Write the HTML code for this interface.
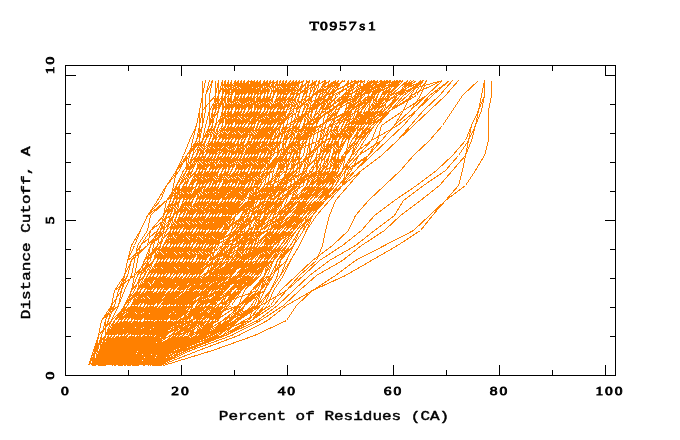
<!DOCTYPE html>
<html><head><meta charset="utf-8"><title>T0957s1</title>
<style>
html,body{margin:0;padding:0;background:#fff}
svg{display:block;will-change:transform}
text{font-family:"Liberation Mono","DejaVu Sans Mono",monospace;font-weight:normal;font-size:13.7px;fill:#000;stroke:#000;stroke-width:0.45px;paint-order:stroke}
.z{font-family:"Liberation Serif","DejaVu Serif",serif;font-size:13.3px;stroke-width:0.8px}
.ax{fill:none;stroke:#000;stroke-width:1;shape-rendering:crispEdges}
.d{fill:none;stroke:#ff8000;stroke-width:1;shape-rendering:crispEdges;stroke-linejoin:round}
</style></head><body>
<svg width="680" height="440" viewBox="0 0 680 440">
<rect width="680" height="440" fill="#fff"/>
<g class="d">
<polyline points="104.5,365.5 119.5,350.5 127.5,335.5 134.5,320.5 147.5,305.5 153.5,290.5 163.5,275.5 173.5,260.5 179.5,245.5 189.5,230.5 196.5,215.5 199.5,200.5 205.5,185.5 209.5,170.5 222.5,155.5 225.5,140.5 235.5,125.5 238.5,110.5 241.5,95.5 241.5,80.5"/>
<polyline points="108.5,365.5 123.5,350.5 137.5,335.5 150.5,320.5 157.5,305.5 173.5,290.5 183.5,275.5 189.5,260.5 199.5,245.5 205.5,230.5 218.5,215.5 228.5,200.5 238.5,185.5 241.5,170.5 251.5,155.5 260.5,140.5 267.5,125.5 277.5,110.5 280.5,95.5 283.5,80.5"/>
<polyline points="151.5,365.5 166.5,350.5 196.5,335.5 205.5,320.5 218.5,305.5 228.5,290.5 248.5,275.5 260.5,260.5 270.5,245.5 283.5,230.5 293.5,215.5 309.5,200.5 325.5,185.5 338.5,170.5 345.5,155.5 358.5,140.5 364.5,125.5 374.5,110.5 387.5,95.5 403.5,80.5"/>
<polyline points="112.5,365.5 120.5,350.5 134.5,335.5 140.5,320.5 150.5,305.5 157.5,290.5 170.5,275.5 176.5,260.5 189.5,245.5 199.5,230.5 202.5,215.5 215.5,200.5 231.5,185.5 248.5,170.5 251.5,155.5 257.5,140.5 260.5,125.5 280.5,110.5 283.5,95.5 286.5,80.5"/>
<polyline points="105.5,365.5 121.5,350.5 134.5,335.5 140.5,320.5 147.5,305.5 157.5,290.5 166.5,275.5 176.5,260.5 183.5,245.5 192.5,230.5 199.5,215.5 215.5,200.5 222.5,185.5 231.5,170.5 238.5,155.5 241.5,140.5 251.5,125.5 257.5,110.5 260.5,95.5 260.5,80.5"/>
<polyline points="114.5,365.5 118.5,350.5 140.5,335.5 147.5,320.5 157.5,305.5 166.5,290.5 179.5,275.5 186.5,260.5 192.5,245.5 196.5,230.5 202.5,215.5 212.5,200.5 218.5,185.5 222.5,170.5 238.5,155.5 241.5,140.5 248.5,125.5 251.5,110.5 254.5,95.5 257.5,80.5"/>
<polyline points="112.5,365.5 116.5,350.5 144.5,335.5 150.5,320.5 153.5,305.5 160.5,290.5 173.5,275.5 179.5,260.5 192.5,245.5 202.5,230.5 212.5,215.5 215.5,200.5 225.5,185.5 235.5,170.5 241.5,155.5 244.5,140.5 248.5,125.5 251.5,110.5 254.5,95.5 254.5,80.5"/>
<polyline points="92.5,365.5 103.5,350.5 108.5,335.5 114.5,320.5 131.5,305.5 147.5,290.5 153.5,275.5 166.5,260.5 173.5,245.5 176.5,230.5 186.5,215.5 189.5,200.5 199.5,185.5 202.5,170.5 212.5,155.5 222.5,140.5 225.5,125.5 228.5,110.5 228.5,95.5 231.5,80.5"/>
<polyline points="101.5,365.5 105.5,350.5 121.5,335.5 131.5,320.5 140.5,305.5 144.5,290.5 150.5,275.5 157.5,260.5 170.5,245.5 176.5,230.5 186.5,215.5 189.5,200.5 199.5,185.5 202.5,170.5 212.5,155.5 218.5,140.5 231.5,125.5 235.5,110.5 244.5,95.5 244.5,80.5"/>
<polyline points="110.5,365.5 124.5,350.5 137.5,335.5 150.5,320.5 160.5,305.5 170.5,290.5 183.5,275.5 192.5,260.5 196.5,245.5 205.5,230.5 209.5,215.5 225.5,200.5 231.5,185.5 238.5,170.5 241.5,155.5 248.5,140.5 254.5,125.5 260.5,110.5 267.5,95.5 270.5,80.5"/>
<polyline points="133.5,365.5 165.5,350.5 176.5,335.5 192.5,320.5 199.5,305.5 241.5,290.5 248.5,275.5 260.5,260.5 264.5,245.5 273.5,230.5 280.5,215.5 290.5,200.5 296.5,185.5 312.5,170.5 316.5,155.5 319.5,140.5 322.5,125.5 335.5,110.5 342.5,95.5 397.5,80.5"/>
<polyline points="151.5,365.5 165.5,350.5 196.5,335.5 202.5,320.5 218.5,305.5 231.5,290.5 248.5,275.5 264.5,260.5 273.5,245.5 286.5,230.5 303.5,215.5 316.5,200.5 329.5,185.5 342.5,170.5 351.5,155.5 358.5,140.5 364.5,125.5 384.5,110.5 397.5,95.5 407.5,80.5"/>
<polyline points="121.5,365.5 145.5,350.5 153.5,335.5 183.5,320.5 186.5,305.5 202.5,290.5 215.5,275.5 235.5,260.5 238.5,245.5 248.5,230.5 254.5,215.5 260.5,200.5 283.5,185.5 290.5,170.5 303.5,155.5 306.5,140.5 309.5,125.5 312.5,110.5 316.5,95.5 319.5,80.5"/>
<polyline points="154.5,365.5 169.5,350.5 196.5,335.5 209.5,320.5 222.5,305.5 235.5,290.5 251.5,275.5 264.5,260.5 273.5,245.5 283.5,230.5 296.5,215.5 306.5,200.5 322.5,185.5 325.5,170.5 332.5,155.5 345.5,140.5 355.5,125.5 361.5,110.5 371.5,95.5 384.5,80.5"/>
<polyline points="100.5,365.5 116.5,350.5 127.5,335.5 140.5,320.5 147.5,305.5 160.5,290.5 173.5,275.5 183.5,260.5 189.5,245.5 192.5,230.5 205.5,215.5 218.5,200.5 222.5,185.5 225.5,170.5 228.5,155.5 235.5,140.5 241.5,125.5 244.5,110.5 251.5,95.5 251.5,80.5"/>
<polyline points="104.5,365.5 114.5,350.5 131.5,335.5 144.5,320.5 150.5,305.5 160.5,290.5 173.5,275.5 189.5,260.5 196.5,245.5 205.5,230.5 215.5,215.5 231.5,200.5 238.5,185.5 244.5,170.5 248.5,155.5 254.5,140.5 260.5,125.5 264.5,110.5 267.5,95.5 273.5,80.5"/>
<polyline points="89.5,365.5 93.5,350.5 98.5,335.5 101.5,320.5 118.5,305.5 121.5,290.5 124.5,275.5 127.5,260.5 134.5,245.5 140.5,230.5 147.5,215.5 157.5,200.5 166.5,185.5 179.5,170.5 186.5,155.5 199.5,140.5 199.5,125.5 202.5,110.5 215.5,95.5 215.5,80.5"/>
<polyline points="105.5,365.5 117.5,350.5 121.5,335.5 127.5,320.5 137.5,305.5 150.5,290.5 163.5,275.5 170.5,260.5 183.5,245.5 186.5,230.5 196.5,215.5 202.5,200.5 215.5,185.5 222.5,170.5 228.5,155.5 238.5,140.5 254.5,125.5 254.5,110.5 257.5,95.5 260.5,80.5"/>
<polyline points="104.5,365.5 119.5,350.5 124.5,335.5 140.5,320.5 147.5,305.5 160.5,290.5 166.5,275.5 183.5,260.5 186.5,245.5 199.5,230.5 205.5,215.5 209.5,200.5 222.5,185.5 228.5,170.5 231.5,155.5 238.5,140.5 244.5,125.5 251.5,110.5 254.5,95.5 264.5,80.5"/>
<polyline points="119.5,365.5 128.5,350.5 137.5,335.5 150.5,320.5 157.5,305.5 166.5,290.5 179.5,275.5 192.5,260.5 199.5,245.5 212.5,230.5 215.5,215.5 228.5,200.5 235.5,185.5 238.5,170.5 257.5,155.5 260.5,140.5 264.5,125.5 277.5,110.5 280.5,95.5 293.5,80.5"/>
<polyline points="125.5,365.5 136.5,350.5 147.5,335.5 153.5,320.5 176.5,305.5 183.5,290.5 196.5,275.5 205.5,260.5 212.5,245.5 218.5,230.5 228.5,215.5 235.5,200.5 244.5,185.5 257.5,170.5 260.5,155.5 267.5,140.5 273.5,125.5 280.5,110.5 293.5,95.5 296.5,80.5"/>
<polyline points="153.5,365.5 168.5,350.5 202.5,335.5 231.5,320.5 241.5,305.5 251.5,290.5 264.5,275.5 270.5,260.5 280.5,245.5 290.5,230.5 299.5,215.5 316.5,200.5 329.5,185.5 338.5,170.5 345.5,155.5 351.5,140.5 361.5,125.5 368.5,110.5 397.5,95.5 410.5,80.5"/>
<polyline points="119.5,365.5 125.5,350.5 144.5,335.5 163.5,320.5 166.5,305.5 179.5,290.5 189.5,275.5 199.5,260.5 205.5,245.5 222.5,230.5 228.5,215.5 238.5,200.5 244.5,185.5 248.5,170.5 257.5,155.5 260.5,140.5 270.5,125.5 283.5,110.5 286.5,95.5 290.5,80.5"/>
<polyline points="163.5,365.5 212.5,350.5 254.5,335.5 286.5,320.5 296.5,305.5 312.5,290.5 345.5,275.5 371.5,260.5 397.5,245.5 420.5,230.5 432.5,215.5 445.5,200.5 465.5,185.5 475.5,170.5 484.5,155.5 488.5,140.5 488.5,125.5 488.5,110.5 491.5,95.5 491.5,80.5"/>
<polyline points="122.5,365.5 137.5,350.5 166.5,335.5 170.5,320.5 176.5,305.5 205.5,290.5 212.5,275.5 235.5,260.5 238.5,245.5 254.5,230.5 257.5,215.5 264.5,200.5 267.5,185.5 280.5,170.5 280.5,155.5 283.5,140.5 286.5,125.5 290.5,110.5 296.5,95.5 325.5,80.5"/>
<polyline points="110.5,365.5 114.5,350.5 127.5,335.5 137.5,320.5 147.5,305.5 153.5,290.5 170.5,275.5 173.5,260.5 179.5,245.5 186.5,230.5 189.5,215.5 209.5,200.5 222.5,185.5 225.5,170.5 228.5,155.5 235.5,140.5 248.5,125.5 257.5,110.5 260.5,95.5 260.5,80.5"/>
<polyline points="158.5,365.5 176.5,350.5 209.5,335.5 222.5,320.5 257.5,305.5 260.5,290.5 264.5,275.5 270.5,260.5 283.5,245.5 293.5,230.5 303.5,215.5 312.5,200.5 329.5,185.5 338.5,170.5 345.5,155.5 355.5,140.5 361.5,125.5 384.5,110.5 400.5,95.5 407.5,80.5"/>
<polyline points="120.5,365.5 127.5,350.5 153.5,335.5 157.5,320.5 163.5,305.5 183.5,290.5 189.5,275.5 199.5,260.5 205.5,245.5 218.5,230.5 228.5,215.5 254.5,200.5 257.5,185.5 264.5,170.5 277.5,155.5 286.5,140.5 299.5,125.5 303.5,110.5 312.5,95.5 329.5,80.5"/>
<polyline points="153.5,365.5 169.5,350.5 199.5,335.5 202.5,320.5 209.5,305.5 231.5,290.5 251.5,275.5 257.5,260.5 267.5,245.5 290.5,230.5 306.5,215.5 325.5,200.5 332.5,185.5 335.5,170.5 338.5,155.5 342.5,140.5 345.5,125.5 384.5,110.5 387.5,95.5 442.5,80.5"/>
<polyline points="115.5,365.5 126.5,350.5 137.5,335.5 140.5,320.5 150.5,305.5 160.5,290.5 170.5,275.5 179.5,260.5 183.5,245.5 192.5,230.5 205.5,215.5 212.5,200.5 218.5,185.5 228.5,170.5 228.5,155.5 231.5,140.5 235.5,125.5 244.5,110.5 248.5,95.5 251.5,80.5"/>
<polyline points="146.5,365.5 160.5,350.5 183.5,335.5 199.5,320.5 209.5,305.5 222.5,290.5 241.5,275.5 257.5,260.5 270.5,245.5 280.5,230.5 293.5,215.5 306.5,200.5 312.5,185.5 322.5,170.5 325.5,155.5 335.5,140.5 338.5,125.5 351.5,110.5 358.5,95.5 374.5,80.5"/>
<polyline points="116.5,365.5 120.5,350.5 144.5,335.5 153.5,320.5 163.5,305.5 173.5,290.5 183.5,275.5 189.5,260.5 202.5,245.5 209.5,230.5 215.5,215.5 225.5,200.5 238.5,185.5 241.5,170.5 244.5,155.5 251.5,140.5 260.5,125.5 264.5,110.5 267.5,95.5 267.5,80.5"/>
<polyline points="140.5,365.5 152.5,350.5 179.5,335.5 183.5,320.5 189.5,305.5 196.5,290.5 209.5,275.5 228.5,260.5 231.5,245.5 238.5,230.5 248.5,215.5 254.5,200.5 264.5,185.5 283.5,170.5 286.5,155.5 290.5,140.5 299.5,125.5 306.5,110.5 312.5,95.5 345.5,80.5"/>
<polyline points="153.5,365.5 171.5,350.5 209.5,335.5 248.5,320.5 254.5,305.5 260.5,290.5 270.5,275.5 286.5,260.5 293.5,245.5 303.5,230.5 306.5,215.5 322.5,200.5 342.5,185.5 348.5,170.5 368.5,155.5 381.5,140.5 394.5,125.5 410.5,110.5 426.5,95.5 442.5,80.5"/>
<polyline points="127.5,365.5 150.5,350.5 183.5,335.5 189.5,320.5 228.5,305.5 235.5,290.5 260.5,275.5 264.5,260.5 270.5,245.5 273.5,230.5 296.5,215.5 309.5,200.5 322.5,185.5 335.5,170.5 338.5,155.5 342.5,140.5 355.5,125.5 368.5,110.5 371.5,95.5 377.5,80.5"/>
<polyline points="110.5,365.5 120.5,350.5 131.5,335.5 150.5,320.5 163.5,305.5 170.5,290.5 183.5,275.5 196.5,260.5 202.5,245.5 209.5,230.5 222.5,215.5 225.5,200.5 238.5,185.5 244.5,170.5 248.5,155.5 251.5,140.5 264.5,125.5 267.5,110.5 273.5,95.5 283.5,80.5"/>
<polyline points="101.5,365.5 105.5,350.5 111.5,335.5 124.5,320.5 140.5,305.5 150.5,290.5 160.5,275.5 166.5,260.5 183.5,245.5 186.5,230.5 196.5,215.5 205.5,200.5 212.5,185.5 218.5,170.5 231.5,155.5 235.5,140.5 248.5,125.5 251.5,110.5 254.5,95.5 257.5,80.5"/>
<polyline points="99.5,365.5 102.5,350.5 105.5,335.5 114.5,320.5 124.5,305.5 131.5,290.5 137.5,275.5 144.5,260.5 150.5,245.5 157.5,230.5 166.5,215.5 173.5,200.5 179.5,185.5 192.5,170.5 196.5,155.5 205.5,140.5 209.5,125.5 215.5,110.5 215.5,95.5 218.5,80.5"/>
<polyline points="126.5,365.5 131.5,350.5 163.5,335.5 166.5,320.5 179.5,305.5 209.5,290.5 215.5,275.5 235.5,260.5 248.5,245.5 254.5,230.5 257.5,215.5 270.5,200.5 273.5,185.5 280.5,170.5 283.5,155.5 290.5,140.5 293.5,125.5 299.5,110.5 303.5,95.5 306.5,80.5"/>
<polyline points="92.5,365.5 107.5,350.5 111.5,335.5 127.5,320.5 137.5,305.5 144.5,290.5 153.5,275.5 160.5,260.5 163.5,245.5 173.5,230.5 179.5,215.5 183.5,200.5 192.5,185.5 196.5,170.5 209.5,155.5 215.5,140.5 218.5,125.5 222.5,110.5 225.5,95.5 238.5,80.5"/>
<polyline points="130.5,365.5 143.5,350.5 153.5,335.5 176.5,320.5 183.5,305.5 192.5,290.5 215.5,275.5 244.5,260.5 251.5,245.5 260.5,230.5 267.5,215.5 270.5,200.5 277.5,185.5 290.5,170.5 293.5,155.5 296.5,140.5 303.5,125.5 309.5,110.5 312.5,95.5 316.5,80.5"/>
<polyline points="155.5,365.5 171.5,350.5 209.5,335.5 235.5,320.5 254.5,305.5 260.5,290.5 264.5,275.5 273.5,260.5 283.5,245.5 293.5,230.5 303.5,215.5 316.5,200.5 329.5,185.5 342.5,170.5 351.5,155.5 358.5,140.5 364.5,125.5 377.5,110.5 394.5,95.5 413.5,80.5"/>
<polyline points="127.5,365.5 131.5,350.5 140.5,335.5 153.5,320.5 166.5,305.5 176.5,290.5 189.5,275.5 202.5,260.5 209.5,245.5 225.5,230.5 228.5,215.5 241.5,200.5 251.5,185.5 254.5,170.5 257.5,155.5 264.5,140.5 267.5,125.5 280.5,110.5 283.5,95.5 283.5,80.5"/>
<polyline points="99.5,365.5 102.5,350.5 111.5,335.5 121.5,320.5 131.5,305.5 140.5,290.5 150.5,275.5 160.5,260.5 166.5,245.5 173.5,230.5 176.5,215.5 179.5,200.5 189.5,185.5 209.5,170.5 212.5,155.5 212.5,140.5 218.5,125.5 225.5,110.5 238.5,95.5 241.5,80.5"/>
<polyline points="111.5,365.5 120.5,350.5 134.5,335.5 140.5,320.5 153.5,305.5 163.5,290.5 170.5,275.5 179.5,260.5 183.5,245.5 192.5,230.5 202.5,215.5 212.5,200.5 225.5,185.5 228.5,170.5 235.5,155.5 241.5,140.5 251.5,125.5 257.5,110.5 260.5,95.5 264.5,80.5"/>
<polyline points="133.5,365.5 138.5,350.5 150.5,335.5 163.5,320.5 186.5,305.5 196.5,290.5 209.5,275.5 218.5,260.5 222.5,245.5 248.5,230.5 251.5,215.5 270.5,200.5 290.5,185.5 319.5,170.5 329.5,155.5 332.5,140.5 348.5,125.5 351.5,110.5 358.5,95.5 361.5,80.5"/>
<polyline points="156.5,365.5 165.5,350.5 176.5,335.5 179.5,320.5 209.5,305.5 215.5,290.5 225.5,275.5 235.5,260.5 244.5,245.5 267.5,230.5 273.5,215.5 277.5,200.5 283.5,185.5 286.5,170.5 293.5,155.5 299.5,140.5 332.5,125.5 338.5,110.5 345.5,95.5 364.5,80.5"/>
<polyline points="92.5,365.5 99.5,350.5 111.5,335.5 118.5,320.5 124.5,305.5 131.5,290.5 137.5,275.5 144.5,260.5 157.5,245.5 160.5,230.5 166.5,215.5 173.5,200.5 179.5,185.5 186.5,170.5 192.5,155.5 202.5,140.5 209.5,125.5 212.5,110.5 215.5,95.5 215.5,80.5"/>
<polyline points="95.5,365.5 113.5,350.5 121.5,335.5 131.5,320.5 137.5,305.5 140.5,290.5 150.5,275.5 163.5,260.5 170.5,245.5 179.5,230.5 186.5,215.5 196.5,200.5 209.5,185.5 212.5,170.5 225.5,155.5 231.5,140.5 235.5,125.5 238.5,110.5 241.5,95.5 244.5,80.5"/>
<polyline points="137.5,365.5 177.5,350.5 186.5,335.5 192.5,320.5 205.5,305.5 212.5,290.5 231.5,275.5 244.5,260.5 264.5,245.5 267.5,230.5 273.5,215.5 283.5,200.5 290.5,185.5 312.5,170.5 316.5,155.5 319.5,140.5 322.5,125.5 325.5,110.5 345.5,95.5 348.5,80.5"/>
<polyline points="152.5,365.5 167.5,350.5 202.5,335.5 215.5,320.5 238.5,305.5 254.5,290.5 264.5,275.5 273.5,260.5 280.5,245.5 293.5,230.5 306.5,215.5 316.5,200.5 332.5,185.5 342.5,170.5 351.5,155.5 361.5,140.5 374.5,125.5 387.5,110.5 397.5,95.5 416.5,80.5"/>
<polyline points="106.5,365.5 119.5,350.5 127.5,335.5 137.5,320.5 153.5,305.5 157.5,290.5 163.5,275.5 173.5,260.5 183.5,245.5 192.5,230.5 196.5,215.5 209.5,200.5 218.5,185.5 222.5,170.5 235.5,155.5 244.5,140.5 251.5,125.5 254.5,110.5 260.5,95.5 267.5,80.5"/>
<polyline points="112.5,365.5 116.5,350.5 127.5,335.5 147.5,320.5 150.5,305.5 163.5,290.5 173.5,275.5 183.5,260.5 186.5,245.5 202.5,230.5 215.5,215.5 218.5,200.5 225.5,185.5 228.5,170.5 238.5,155.5 244.5,140.5 251.5,125.5 257.5,110.5 260.5,95.5 277.5,80.5"/>
<polyline points="116.5,365.5 120.5,350.5 137.5,335.5 140.5,320.5 150.5,305.5 163.5,290.5 176.5,275.5 189.5,260.5 196.5,245.5 202.5,230.5 215.5,215.5 222.5,200.5 244.5,185.5 248.5,170.5 254.5,155.5 264.5,140.5 267.5,125.5 270.5,110.5 280.5,95.5 293.5,80.5"/>
<polyline points="131.5,365.5 135.5,350.5 153.5,335.5 166.5,320.5 170.5,305.5 192.5,290.5 199.5,275.5 202.5,260.5 209.5,245.5 222.5,230.5 248.5,215.5 254.5,200.5 273.5,185.5 280.5,170.5 280.5,155.5 283.5,140.5 286.5,125.5 290.5,110.5 296.5,95.5 316.5,80.5"/>
<polyline points="96.5,365.5 100.5,350.5 118.5,335.5 121.5,320.5 131.5,305.5 140.5,290.5 153.5,275.5 160.5,260.5 163.5,245.5 170.5,230.5 176.5,215.5 186.5,200.5 192.5,185.5 199.5,170.5 209.5,155.5 212.5,140.5 222.5,125.5 225.5,110.5 228.5,95.5 228.5,80.5"/>
<polyline points="99.5,365.5 103.5,350.5 114.5,335.5 118.5,320.5 124.5,305.5 137.5,290.5 144.5,275.5 147.5,260.5 150.5,245.5 166.5,230.5 183.5,215.5 186.5,200.5 189.5,185.5 202.5,170.5 209.5,155.5 222.5,140.5 228.5,125.5 238.5,110.5 241.5,95.5 241.5,80.5"/>
<polyline points="100.5,365.5 109.5,350.5 114.5,335.5 118.5,320.5 131.5,305.5 140.5,290.5 153.5,275.5 160.5,260.5 163.5,245.5 176.5,230.5 179.5,215.5 189.5,200.5 189.5,185.5 199.5,170.5 205.5,155.5 212.5,140.5 218.5,125.5 222.5,110.5 231.5,95.5 231.5,80.5"/>
<polyline points="100.5,365.5 110.5,350.5 114.5,335.5 121.5,320.5 137.5,305.5 140.5,290.5 150.5,275.5 157.5,260.5 170.5,245.5 173.5,230.5 179.5,215.5 189.5,200.5 196.5,185.5 199.5,170.5 202.5,155.5 205.5,140.5 215.5,125.5 218.5,110.5 218.5,95.5 222.5,80.5"/>
<polyline points="104.5,365.5 110.5,350.5 127.5,335.5 134.5,320.5 144.5,305.5 157.5,290.5 160.5,275.5 170.5,260.5 173.5,245.5 183.5,230.5 192.5,215.5 199.5,200.5 212.5,185.5 218.5,170.5 231.5,155.5 238.5,140.5 241.5,125.5 257.5,110.5 264.5,95.5 264.5,80.5"/>
<polyline points="100.5,365.5 105.5,350.5 118.5,335.5 131.5,320.5 140.5,305.5 150.5,290.5 157.5,275.5 166.5,260.5 179.5,245.5 186.5,230.5 192.5,215.5 199.5,200.5 202.5,185.5 218.5,170.5 222.5,155.5 225.5,140.5 228.5,125.5 231.5,110.5 241.5,95.5 254.5,80.5"/>
<polyline points="105.5,365.5 110.5,350.5 114.5,335.5 137.5,320.5 144.5,305.5 147.5,290.5 160.5,275.5 166.5,260.5 176.5,245.5 179.5,230.5 192.5,215.5 196.5,200.5 199.5,185.5 202.5,170.5 212.5,155.5 222.5,140.5 231.5,125.5 235.5,110.5 238.5,95.5 254.5,80.5"/>
<polyline points="155.5,365.5 172.5,350.5 205.5,335.5 235.5,320.5 257.5,305.5 270.5,290.5 280.5,275.5 290.5,260.5 299.5,245.5 306.5,230.5 312.5,215.5 325.5,200.5 342.5,185.5 361.5,170.5 381.5,155.5 397.5,140.5 410.5,125.5 423.5,110.5 439.5,95.5 452.5,80.5"/>
<polyline points="114.5,365.5 119.5,350.5 137.5,335.5 140.5,320.5 150.5,305.5 163.5,290.5 173.5,275.5 179.5,260.5 186.5,245.5 192.5,230.5 196.5,215.5 205.5,200.5 209.5,185.5 212.5,170.5 215.5,155.5 218.5,140.5 235.5,125.5 238.5,110.5 241.5,95.5 244.5,80.5"/>
<polyline points="114.5,365.5 144.5,350.5 150.5,335.5 157.5,320.5 170.5,305.5 176.5,290.5 189.5,275.5 199.5,260.5 205.5,245.5 212.5,230.5 222.5,215.5 228.5,200.5 241.5,185.5 254.5,170.5 257.5,155.5 260.5,140.5 267.5,125.5 280.5,110.5 283.5,95.5 290.5,80.5"/>
<polyline points="110.5,365.5 114.5,350.5 134.5,335.5 140.5,320.5 147.5,305.5 160.5,290.5 173.5,275.5 186.5,260.5 189.5,245.5 196.5,230.5 209.5,215.5 212.5,200.5 215.5,185.5 218.5,170.5 228.5,155.5 238.5,140.5 248.5,125.5 257.5,110.5 257.5,95.5 273.5,80.5"/>
<polyline points="135.5,365.5 148.5,350.5 166.5,335.5 179.5,320.5 199.5,305.5 225.5,290.5 231.5,275.5 244.5,260.5 248.5,245.5 251.5,230.5 257.5,215.5 260.5,200.5 267.5,185.5 277.5,170.5 283.5,155.5 290.5,140.5 293.5,125.5 296.5,110.5 303.5,95.5 316.5,80.5"/>
<polyline points="120.5,365.5 146.5,350.5 160.5,335.5 163.5,320.5 170.5,305.5 179.5,290.5 202.5,275.5 222.5,260.5 225.5,245.5 244.5,230.5 251.5,215.5 254.5,200.5 267.5,185.5 277.5,170.5 293.5,155.5 303.5,140.5 306.5,125.5 325.5,110.5 329.5,95.5 342.5,80.5"/>
<polyline points="92.5,365.5 102.5,350.5 105.5,335.5 114.5,320.5 131.5,305.5 137.5,290.5 144.5,275.5 147.5,260.5 157.5,245.5 170.5,230.5 176.5,215.5 186.5,200.5 192.5,185.5 202.5,170.5 209.5,155.5 212.5,140.5 218.5,125.5 225.5,110.5 225.5,95.5 228.5,80.5"/>
<polyline points="93.5,365.5 109.5,350.5 121.5,335.5 124.5,320.5 131.5,305.5 137.5,290.5 150.5,275.5 157.5,260.5 166.5,245.5 173.5,230.5 179.5,215.5 186.5,200.5 202.5,185.5 209.5,170.5 212.5,155.5 215.5,140.5 218.5,125.5 222.5,110.5 222.5,95.5 225.5,80.5"/>
<polyline points="159.5,365.5 185.5,350.5 225.5,335.5 251.5,320.5 267.5,305.5 273.5,290.5 283.5,275.5 290.5,260.5 299.5,245.5 306.5,230.5 316.5,215.5 329.5,200.5 342.5,185.5 355.5,170.5 371.5,155.5 387.5,140.5 403.5,125.5 416.5,110.5 432.5,95.5 449.5,80.5"/>
<polyline points="94.5,365.5 97.5,350.5 101.5,335.5 108.5,320.5 114.5,305.5 118.5,290.5 127.5,275.5 131.5,260.5 147.5,245.5 150.5,230.5 163.5,215.5 173.5,200.5 183.5,185.5 189.5,170.5 192.5,155.5 196.5,140.5 199.5,125.5 199.5,110.5 202.5,95.5 202.5,80.5"/>
<polyline points="112.5,365.5 115.5,350.5 121.5,335.5 131.5,320.5 144.5,305.5 150.5,290.5 166.5,275.5 176.5,260.5 183.5,245.5 189.5,230.5 196.5,215.5 205.5,200.5 209.5,185.5 215.5,170.5 218.5,155.5 231.5,140.5 241.5,125.5 248.5,110.5 251.5,95.5 257.5,80.5"/>
<polyline points="112.5,365.5 119.5,350.5 127.5,335.5 134.5,320.5 144.5,305.5 157.5,290.5 163.5,275.5 170.5,260.5 183.5,245.5 192.5,230.5 205.5,215.5 209.5,200.5 222.5,185.5 225.5,170.5 231.5,155.5 238.5,140.5 251.5,125.5 264.5,110.5 273.5,95.5 283.5,80.5"/>
<polyline points="152.5,365.5 161.5,350.5 183.5,335.5 186.5,320.5 192.5,305.5 199.5,290.5 218.5,275.5 231.5,260.5 244.5,245.5 254.5,230.5 277.5,215.5 299.5,200.5 312.5,185.5 316.5,170.5 325.5,155.5 332.5,140.5 351.5,125.5 355.5,110.5 361.5,95.5 390.5,80.5"/>
<polyline points="96.5,365.5 99.5,350.5 111.5,335.5 127.5,320.5 131.5,305.5 137.5,290.5 140.5,275.5 144.5,260.5 157.5,245.5 160.5,230.5 166.5,215.5 179.5,200.5 196.5,185.5 199.5,170.5 205.5,155.5 209.5,140.5 212.5,125.5 212.5,110.5 228.5,95.5 228.5,80.5"/>
<polyline points="92.5,365.5 107.5,350.5 114.5,335.5 127.5,320.5 137.5,305.5 144.5,290.5 157.5,275.5 166.5,260.5 170.5,245.5 173.5,230.5 176.5,215.5 183.5,200.5 189.5,185.5 196.5,170.5 202.5,155.5 205.5,140.5 215.5,125.5 218.5,110.5 222.5,95.5 225.5,80.5"/>
<polyline points="124.5,365.5 132.5,350.5 163.5,335.5 170.5,320.5 176.5,305.5 199.5,290.5 209.5,275.5 241.5,260.5 254.5,245.5 257.5,230.5 264.5,215.5 267.5,200.5 273.5,185.5 277.5,170.5 280.5,155.5 283.5,140.5 286.5,125.5 312.5,110.5 316.5,95.5 319.5,80.5"/>
<polyline points="121.5,365.5 126.5,350.5 160.5,335.5 163.5,320.5 176.5,305.5 183.5,290.5 189.5,275.5 199.5,260.5 205.5,245.5 228.5,230.5 231.5,215.5 241.5,200.5 248.5,185.5 257.5,170.5 267.5,155.5 273.5,140.5 277.5,125.5 283.5,110.5 290.5,95.5 296.5,80.5"/>
<polyline points="110.5,365.5 120.5,350.5 137.5,335.5 144.5,320.5 150.5,305.5 163.5,290.5 173.5,275.5 183.5,260.5 192.5,245.5 199.5,230.5 202.5,215.5 212.5,200.5 225.5,185.5 231.5,170.5 235.5,155.5 241.5,140.5 254.5,125.5 257.5,110.5 264.5,95.5 267.5,80.5"/>
<polyline points="113.5,365.5 117.5,350.5 131.5,335.5 140.5,320.5 147.5,305.5 150.5,290.5 166.5,275.5 170.5,260.5 179.5,245.5 189.5,230.5 199.5,215.5 205.5,200.5 218.5,185.5 225.5,170.5 231.5,155.5 235.5,140.5 238.5,125.5 244.5,110.5 251.5,95.5 257.5,80.5"/>
<polyline points="149.5,365.5 163.5,350.5 189.5,335.5 202.5,320.5 222.5,305.5 228.5,290.5 248.5,275.5 260.5,260.5 273.5,245.5 290.5,230.5 303.5,215.5 312.5,200.5 325.5,185.5 335.5,170.5 338.5,155.5 345.5,140.5 358.5,125.5 364.5,110.5 374.5,95.5 387.5,80.5"/>
<polyline points="152.5,365.5 160.5,350.5 173.5,335.5 192.5,320.5 199.5,305.5 218.5,290.5 228.5,275.5 241.5,260.5 244.5,245.5 254.5,230.5 264.5,215.5 283.5,200.5 296.5,185.5 299.5,170.5 306.5,155.5 309.5,140.5 312.5,125.5 329.5,110.5 355.5,95.5 361.5,80.5"/>
<polyline points="139.5,365.5 151.5,350.5 163.5,335.5 176.5,320.5 179.5,305.5 199.5,290.5 209.5,275.5 218.5,260.5 244.5,245.5 254.5,230.5 267.5,215.5 283.5,200.5 296.5,185.5 312.5,170.5 316.5,155.5 338.5,140.5 342.5,125.5 351.5,110.5 374.5,95.5 377.5,80.5"/>
<polyline points="92.5,365.5 106.5,350.5 111.5,335.5 114.5,320.5 124.5,305.5 131.5,290.5 137.5,275.5 144.5,260.5 150.5,245.5 160.5,230.5 173.5,215.5 189.5,200.5 192.5,185.5 196.5,170.5 202.5,155.5 205.5,140.5 215.5,125.5 225.5,110.5 228.5,95.5 231.5,80.5"/>
<polyline points="98.5,365.5 106.5,350.5 124.5,335.5 131.5,320.5 140.5,305.5 153.5,290.5 157.5,275.5 166.5,260.5 173.5,245.5 179.5,230.5 186.5,215.5 199.5,200.5 205.5,185.5 209.5,170.5 218.5,155.5 222.5,140.5 231.5,125.5 235.5,110.5 241.5,95.5 241.5,80.5"/>
<polyline points="127.5,365.5 132.5,350.5 144.5,335.5 153.5,320.5 160.5,305.5 176.5,290.5 189.5,275.5 199.5,260.5 209.5,245.5 212.5,230.5 225.5,215.5 235.5,200.5 244.5,185.5 248.5,170.5 257.5,155.5 267.5,140.5 277.5,125.5 280.5,110.5 280.5,95.5 283.5,80.5"/>
<polyline points="99.5,365.5 122.5,350.5 131.5,335.5 140.5,320.5 157.5,305.5 160.5,290.5 173.5,275.5 183.5,260.5 189.5,245.5 199.5,230.5 205.5,215.5 212.5,200.5 228.5,185.5 238.5,170.5 244.5,155.5 251.5,140.5 260.5,125.5 264.5,110.5 270.5,95.5 273.5,80.5"/>
<polyline points="151.5,365.5 165.5,350.5 189.5,335.5 196.5,320.5 209.5,305.5 222.5,290.5 238.5,275.5 251.5,260.5 260.5,245.5 270.5,230.5 283.5,215.5 296.5,200.5 309.5,185.5 319.5,170.5 322.5,155.5 332.5,140.5 342.5,125.5 348.5,110.5 358.5,95.5 368.5,80.5"/>
<polyline points="124.5,365.5 128.5,350.5 137.5,335.5 144.5,320.5 160.5,305.5 173.5,290.5 183.5,275.5 192.5,260.5 202.5,245.5 212.5,230.5 225.5,215.5 235.5,200.5 238.5,185.5 241.5,170.5 248.5,155.5 254.5,140.5 267.5,125.5 273.5,110.5 277.5,95.5 283.5,80.5"/>
<polyline points="134.5,365.5 139.5,350.5 147.5,335.5 153.5,320.5 166.5,305.5 176.5,290.5 192.5,275.5 202.5,260.5 209.5,245.5 238.5,230.5 244.5,215.5 248.5,200.5 251.5,185.5 257.5,170.5 260.5,155.5 267.5,140.5 273.5,125.5 286.5,110.5 293.5,95.5 296.5,80.5"/>
<polyline points="92.5,365.5 99.5,350.5 111.5,335.5 114.5,320.5 124.5,305.5 134.5,290.5 140.5,275.5 144.5,260.5 160.5,245.5 163.5,230.5 166.5,215.5 173.5,200.5 179.5,185.5 192.5,170.5 199.5,155.5 202.5,140.5 209.5,125.5 212.5,110.5 215.5,95.5 215.5,80.5"/>
<polyline points="152.5,365.5 165.5,350.5 196.5,335.5 209.5,320.5 222.5,305.5 241.5,290.5 254.5,275.5 270.5,260.5 283.5,245.5 293.5,230.5 303.5,215.5 316.5,200.5 332.5,185.5 342.5,170.5 351.5,155.5 358.5,140.5 368.5,125.5 387.5,110.5 400.5,95.5 413.5,80.5"/>
<polyline points="151.5,365.5 160.5,350.5 173.5,335.5 176.5,320.5 192.5,305.5 205.5,290.5 212.5,275.5 241.5,260.5 264.5,245.5 267.5,230.5 273.5,215.5 280.5,200.5 286.5,185.5 290.5,170.5 293.5,155.5 303.5,140.5 316.5,125.5 322.5,110.5 329.5,95.5 338.5,80.5"/>
<polyline points="136.5,365.5 162.5,350.5 170.5,335.5 209.5,320.5 215.5,305.5 222.5,290.5 241.5,275.5 248.5,260.5 251.5,245.5 257.5,230.5 264.5,215.5 267.5,200.5 273.5,185.5 277.5,170.5 280.5,155.5 293.5,140.5 303.5,125.5 309.5,110.5 322.5,95.5 325.5,80.5"/>
<polyline points="105.5,365.5 109.5,350.5 140.5,335.5 144.5,320.5 157.5,305.5 163.5,290.5 173.5,275.5 186.5,260.5 189.5,245.5 192.5,230.5 199.5,215.5 209.5,200.5 215.5,185.5 225.5,170.5 231.5,155.5 251.5,140.5 257.5,125.5 260.5,110.5 264.5,95.5 267.5,80.5"/>
<polyline points="129.5,365.5 142.5,350.5 166.5,335.5 183.5,320.5 189.5,305.5 192.5,290.5 199.5,275.5 209.5,260.5 218.5,245.5 222.5,230.5 231.5,215.5 238.5,200.5 254.5,185.5 260.5,170.5 260.5,155.5 277.5,140.5 280.5,125.5 293.5,110.5 296.5,95.5 303.5,80.5"/>
<polyline points="119.5,365.5 131.5,350.5 163.5,335.5 166.5,320.5 176.5,305.5 196.5,290.5 209.5,275.5 228.5,260.5 241.5,245.5 248.5,230.5 267.5,215.5 273.5,200.5 277.5,185.5 280.5,170.5 299.5,155.5 303.5,140.5 312.5,125.5 322.5,110.5 338.5,95.5 348.5,80.5"/>
<polyline points="158.5,365.5 190.5,350.5 231.5,335.5 260.5,320.5 283.5,305.5 299.5,290.5 316.5,275.5 342.5,260.5 361.5,245.5 384.5,230.5 400.5,215.5 420.5,200.5 439.5,185.5 452.5,170.5 465.5,155.5 468.5,140.5 475.5,125.5 478.5,110.5 484.5,95.5 484.5,80.5"/>
<polyline points="136.5,365.5 142.5,350.5 153.5,335.5 173.5,320.5 192.5,305.5 199.5,290.5 222.5,275.5 228.5,260.5 231.5,245.5 267.5,230.5 273.5,215.5 280.5,200.5 286.5,185.5 290.5,170.5 293.5,155.5 303.5,140.5 309.5,125.5 312.5,110.5 319.5,95.5 335.5,80.5"/>
<polyline points="115.5,365.5 132.5,350.5 147.5,335.5 153.5,320.5 170.5,305.5 176.5,290.5 192.5,275.5 202.5,260.5 205.5,245.5 215.5,230.5 228.5,215.5 235.5,200.5 244.5,185.5 251.5,170.5 257.5,155.5 267.5,140.5 273.5,125.5 277.5,110.5 280.5,95.5 296.5,80.5"/>
<polyline points="107.5,365.5 114.5,350.5 127.5,335.5 137.5,320.5 147.5,305.5 160.5,290.5 166.5,275.5 179.5,260.5 192.5,245.5 196.5,230.5 199.5,215.5 205.5,200.5 218.5,185.5 225.5,170.5 228.5,155.5 238.5,140.5 248.5,125.5 257.5,110.5 267.5,95.5 273.5,80.5"/>
<polyline points="105.5,365.5 118.5,350.5 124.5,335.5 140.5,320.5 147.5,305.5 153.5,290.5 163.5,275.5 173.5,260.5 176.5,245.5 189.5,230.5 196.5,215.5 202.5,200.5 205.5,185.5 218.5,170.5 225.5,155.5 228.5,140.5 238.5,125.5 251.5,110.5 254.5,95.5 260.5,80.5"/>
<polyline points="109.5,365.5 116.5,350.5 124.5,335.5 137.5,320.5 144.5,305.5 153.5,290.5 170.5,275.5 179.5,260.5 183.5,245.5 196.5,230.5 202.5,215.5 212.5,200.5 218.5,185.5 222.5,170.5 231.5,155.5 244.5,140.5 248.5,125.5 257.5,110.5 260.5,95.5 264.5,80.5"/>
<polyline points="131.5,365.5 143.5,350.5 153.5,335.5 176.5,320.5 183.5,305.5 199.5,290.5 218.5,275.5 231.5,260.5 235.5,245.5 248.5,230.5 251.5,215.5 257.5,200.5 264.5,185.5 267.5,170.5 283.5,155.5 319.5,140.5 322.5,125.5 325.5,110.5 342.5,95.5 358.5,80.5"/>
<polyline points="101.5,365.5 113.5,350.5 118.5,335.5 131.5,320.5 140.5,305.5 144.5,290.5 153.5,275.5 166.5,260.5 173.5,245.5 189.5,230.5 199.5,215.5 202.5,200.5 212.5,185.5 228.5,170.5 231.5,155.5 235.5,140.5 241.5,125.5 251.5,110.5 251.5,95.5 260.5,80.5"/>
<polyline points="131.5,365.5 135.5,350.5 157.5,335.5 160.5,320.5 179.5,305.5 183.5,290.5 196.5,275.5 199.5,260.5 202.5,245.5 215.5,230.5 228.5,215.5 238.5,200.5 244.5,185.5 257.5,170.5 260.5,155.5 264.5,140.5 273.5,125.5 280.5,110.5 283.5,95.5 303.5,80.5"/>
<polyline points="110.5,365.5 121.5,350.5 140.5,335.5 160.5,320.5 166.5,305.5 173.5,290.5 186.5,275.5 196.5,260.5 205.5,245.5 212.5,230.5 225.5,215.5 228.5,200.5 235.5,185.5 244.5,170.5 254.5,155.5 260.5,140.5 267.5,125.5 273.5,110.5 283.5,95.5 293.5,80.5"/>
<polyline points="153.5,365.5 170.5,350.5 202.5,335.5 238.5,320.5 244.5,305.5 251.5,290.5 264.5,275.5 267.5,260.5 277.5,245.5 286.5,230.5 299.5,215.5 312.5,200.5 325.5,185.5 335.5,170.5 345.5,155.5 348.5,140.5 358.5,125.5 371.5,110.5 384.5,95.5 397.5,80.5"/>
<polyline points="88.5,365.5 96.5,350.5 101.5,335.5 105.5,320.5 111.5,305.5 114.5,290.5 124.5,275.5 127.5,260.5 131.5,245.5 140.5,230.5 147.5,215.5 157.5,200.5 166.5,185.5 176.5,170.5 186.5,155.5 196.5,140.5 199.5,125.5 199.5,110.5 202.5,95.5 202.5,80.5"/>
<polyline points="115.5,365.5 119.5,350.5 124.5,335.5 140.5,320.5 150.5,305.5 160.5,290.5 173.5,275.5 183.5,260.5 186.5,245.5 199.5,230.5 202.5,215.5 212.5,200.5 222.5,185.5 231.5,170.5 238.5,155.5 248.5,140.5 254.5,125.5 257.5,110.5 260.5,95.5 264.5,80.5"/>
<polyline points="113.5,365.5 118.5,350.5 134.5,335.5 140.5,320.5 153.5,305.5 163.5,290.5 173.5,275.5 183.5,260.5 192.5,245.5 202.5,230.5 212.5,215.5 218.5,200.5 225.5,185.5 231.5,170.5 238.5,155.5 248.5,140.5 251.5,125.5 260.5,110.5 267.5,95.5 270.5,80.5"/>
<polyline points="132.5,365.5 148.5,350.5 157.5,335.5 186.5,320.5 192.5,305.5 199.5,290.5 209.5,275.5 241.5,260.5 248.5,245.5 257.5,230.5 267.5,215.5 277.5,200.5 296.5,185.5 322.5,170.5 325.5,155.5 329.5,140.5 335.5,125.5 348.5,110.5 364.5,95.5 371.5,80.5"/>
<polyline points="106.5,365.5 114.5,350.5 121.5,335.5 134.5,320.5 137.5,305.5 150.5,290.5 157.5,275.5 163.5,260.5 166.5,245.5 170.5,230.5 176.5,215.5 186.5,200.5 186.5,185.5 189.5,170.5 202.5,155.5 212.5,140.5 215.5,125.5 218.5,110.5 218.5,95.5 225.5,80.5"/>
<polyline points="114.5,365.5 130.5,350.5 140.5,335.5 147.5,320.5 166.5,305.5 173.5,290.5 186.5,275.5 199.5,260.5 205.5,245.5 209.5,230.5 222.5,215.5 231.5,200.5 241.5,185.5 251.5,170.5 264.5,155.5 270.5,140.5 273.5,125.5 286.5,110.5 293.5,95.5 296.5,80.5"/>
<polyline points="112.5,365.5 121.5,350.5 127.5,335.5 147.5,320.5 153.5,305.5 166.5,290.5 176.5,275.5 186.5,260.5 192.5,245.5 196.5,230.5 212.5,215.5 222.5,200.5 238.5,185.5 241.5,170.5 248.5,155.5 260.5,140.5 264.5,125.5 267.5,110.5 273.5,95.5 280.5,80.5"/>
<polyline points="95.5,365.5 104.5,350.5 111.5,335.5 118.5,320.5 137.5,305.5 140.5,290.5 147.5,275.5 160.5,260.5 170.5,245.5 179.5,230.5 186.5,215.5 196.5,200.5 199.5,185.5 205.5,170.5 215.5,155.5 222.5,140.5 225.5,125.5 231.5,110.5 235.5,95.5 244.5,80.5"/>
<polyline points="116.5,365.5 128.5,350.5 147.5,335.5 150.5,320.5 157.5,305.5 166.5,290.5 183.5,275.5 186.5,260.5 199.5,245.5 209.5,230.5 218.5,215.5 231.5,200.5 241.5,185.5 251.5,170.5 254.5,155.5 260.5,140.5 267.5,125.5 270.5,110.5 286.5,95.5 290.5,80.5"/>
<polyline points="103.5,365.5 119.5,350.5 124.5,335.5 127.5,320.5 144.5,305.5 150.5,290.5 166.5,275.5 176.5,260.5 179.5,245.5 186.5,230.5 192.5,215.5 202.5,200.5 212.5,185.5 218.5,170.5 231.5,155.5 231.5,140.5 238.5,125.5 241.5,110.5 244.5,95.5 251.5,80.5"/>
<polyline points="110.5,365.5 118.5,350.5 124.5,335.5 137.5,320.5 144.5,305.5 157.5,290.5 166.5,275.5 179.5,260.5 186.5,245.5 196.5,230.5 205.5,215.5 215.5,200.5 222.5,185.5 235.5,170.5 238.5,155.5 251.5,140.5 254.5,125.5 257.5,110.5 260.5,95.5 267.5,80.5"/>
<polyline points="109.5,365.5 115.5,350.5 121.5,335.5 131.5,320.5 144.5,305.5 153.5,290.5 163.5,275.5 170.5,260.5 179.5,245.5 183.5,230.5 192.5,215.5 202.5,200.5 215.5,185.5 218.5,170.5 225.5,155.5 228.5,140.5 238.5,125.5 241.5,110.5 241.5,95.5 248.5,80.5"/>
<polyline points="129.5,365.5 134.5,350.5 153.5,335.5 170.5,320.5 183.5,305.5 189.5,290.5 212.5,275.5 218.5,260.5 225.5,245.5 231.5,230.5 241.5,215.5 251.5,200.5 257.5,185.5 267.5,170.5 270.5,155.5 280.5,140.5 286.5,125.5 290.5,110.5 296.5,95.5 316.5,80.5"/>
<polyline points="153.5,365.5 171.5,350.5 212.5,335.5 235.5,320.5 244.5,305.5 251.5,290.5 270.5,275.5 277.5,260.5 293.5,245.5 303.5,230.5 312.5,215.5 325.5,200.5 342.5,185.5 355.5,170.5 368.5,155.5 377.5,140.5 381.5,125.5 403.5,110.5 410.5,95.5 420.5,80.5"/>
<polyline points="108.5,365.5 122.5,350.5 137.5,335.5 150.5,320.5 163.5,305.5 170.5,290.5 176.5,275.5 186.5,260.5 199.5,245.5 212.5,230.5 225.5,215.5 235.5,200.5 241.5,185.5 244.5,170.5 248.5,155.5 251.5,140.5 254.5,125.5 257.5,110.5 267.5,95.5 270.5,80.5"/>
<polyline points="121.5,365.5 130.5,350.5 140.5,335.5 153.5,320.5 173.5,305.5 179.5,290.5 189.5,275.5 199.5,260.5 202.5,245.5 209.5,230.5 222.5,215.5 238.5,200.5 244.5,185.5 251.5,170.5 257.5,155.5 260.5,140.5 273.5,125.5 277.5,110.5 286.5,95.5 290.5,80.5"/>
<polyline points="116.5,365.5 129.5,350.5 140.5,335.5 150.5,320.5 163.5,305.5 176.5,290.5 196.5,275.5 205.5,260.5 215.5,245.5 218.5,230.5 231.5,215.5 244.5,200.5 248.5,185.5 254.5,170.5 260.5,155.5 273.5,140.5 277.5,125.5 283.5,110.5 293.5,95.5 299.5,80.5"/>
<polyline points="123.5,365.5 127.5,350.5 144.5,335.5 150.5,320.5 166.5,305.5 173.5,290.5 186.5,275.5 202.5,260.5 205.5,245.5 215.5,230.5 218.5,215.5 235.5,200.5 241.5,185.5 248.5,170.5 254.5,155.5 257.5,140.5 270.5,125.5 277.5,110.5 280.5,95.5 286.5,80.5"/>
<polyline points="105.5,365.5 113.5,350.5 127.5,335.5 137.5,320.5 144.5,305.5 160.5,290.5 173.5,275.5 186.5,260.5 192.5,245.5 205.5,230.5 212.5,215.5 222.5,200.5 225.5,185.5 235.5,170.5 241.5,155.5 248.5,140.5 251.5,125.5 254.5,110.5 257.5,95.5 257.5,80.5"/>
<polyline points="92.5,365.5 99.5,350.5 105.5,335.5 118.5,320.5 124.5,305.5 131.5,290.5 137.5,275.5 144.5,260.5 157.5,245.5 160.5,230.5 166.5,215.5 179.5,200.5 179.5,185.5 192.5,170.5 196.5,155.5 205.5,140.5 209.5,125.5 212.5,110.5 218.5,95.5 218.5,80.5"/>
<polyline points="103.5,365.5 110.5,350.5 124.5,335.5 140.5,320.5 144.5,305.5 147.5,290.5 160.5,275.5 170.5,260.5 173.5,245.5 183.5,230.5 189.5,215.5 192.5,200.5 202.5,185.5 209.5,170.5 212.5,155.5 218.5,140.5 228.5,125.5 228.5,110.5 231.5,95.5 241.5,80.5"/>
<polyline points="121.5,365.5 128.5,350.5 153.5,335.5 160.5,320.5 170.5,305.5 176.5,290.5 189.5,275.5 199.5,260.5 205.5,245.5 218.5,230.5 225.5,215.5 231.5,200.5 241.5,185.5 251.5,170.5 260.5,155.5 264.5,140.5 273.5,125.5 280.5,110.5 286.5,95.5 293.5,80.5"/>
<polyline points="112.5,365.5 131.5,350.5 153.5,335.5 157.5,320.5 163.5,305.5 176.5,290.5 189.5,275.5 199.5,260.5 209.5,245.5 215.5,230.5 225.5,215.5 235.5,200.5 241.5,185.5 251.5,170.5 254.5,155.5 267.5,140.5 277.5,125.5 286.5,110.5 290.5,95.5 299.5,80.5"/>
<polyline points="135.5,365.5 149.5,350.5 205.5,335.5 215.5,320.5 218.5,305.5 231.5,290.5 254.5,275.5 273.5,260.5 280.5,245.5 293.5,230.5 299.5,215.5 322.5,200.5 335.5,185.5 342.5,170.5 345.5,155.5 348.5,140.5 351.5,125.5 358.5,110.5 361.5,95.5 384.5,80.5"/>
<polyline points="101.5,365.5 104.5,350.5 124.5,335.5 127.5,320.5 134.5,305.5 153.5,290.5 160.5,275.5 170.5,260.5 176.5,245.5 179.5,230.5 183.5,215.5 192.5,200.5 202.5,185.5 215.5,170.5 218.5,155.5 222.5,140.5 225.5,125.5 235.5,110.5 238.5,95.5 244.5,80.5"/>
<polyline points="111.5,365.5 120.5,350.5 124.5,335.5 134.5,320.5 147.5,305.5 150.5,290.5 163.5,275.5 176.5,260.5 183.5,245.5 186.5,230.5 199.5,215.5 202.5,200.5 218.5,185.5 222.5,170.5 225.5,155.5 228.5,140.5 235.5,125.5 241.5,110.5 251.5,95.5 260.5,80.5"/>
<polyline points="100.5,365.5 107.5,350.5 124.5,335.5 127.5,320.5 137.5,305.5 140.5,290.5 157.5,275.5 166.5,260.5 170.5,245.5 179.5,230.5 186.5,215.5 192.5,200.5 199.5,185.5 209.5,170.5 215.5,155.5 231.5,140.5 244.5,125.5 248.5,110.5 251.5,95.5 254.5,80.5"/>
<polyline points="99.5,365.5 103.5,350.5 111.5,335.5 124.5,320.5 137.5,305.5 147.5,290.5 153.5,275.5 163.5,260.5 173.5,245.5 176.5,230.5 186.5,215.5 192.5,200.5 199.5,185.5 212.5,170.5 215.5,155.5 222.5,140.5 228.5,125.5 235.5,110.5 238.5,95.5 254.5,80.5"/>
<polyline points="129.5,365.5 173.5,350.5 183.5,335.5 189.5,320.5 196.5,305.5 205.5,290.5 231.5,275.5 238.5,260.5 244.5,245.5 248.5,230.5 251.5,215.5 277.5,200.5 283.5,185.5 286.5,170.5 290.5,155.5 299.5,140.5 303.5,125.5 309.5,110.5 332.5,95.5 342.5,80.5"/>
<polyline points="153.5,365.5 170.5,350.5 209.5,335.5 225.5,320.5 238.5,305.5 244.5,290.5 257.5,275.5 270.5,260.5 283.5,245.5 296.5,230.5 306.5,215.5 319.5,200.5 335.5,185.5 345.5,170.5 351.5,155.5 358.5,140.5 374.5,125.5 387.5,110.5 400.5,95.5 423.5,80.5"/>
<polyline points="119.5,365.5 132.5,350.5 166.5,335.5 170.5,320.5 179.5,305.5 205.5,290.5 215.5,275.5 225.5,260.5 244.5,245.5 254.5,230.5 270.5,215.5 283.5,200.5 293.5,185.5 322.5,170.5 329.5,155.5 332.5,140.5 355.5,125.5 358.5,110.5 361.5,95.5 387.5,80.5"/>
<polyline points="109.5,365.5 113.5,350.5 124.5,335.5 137.5,320.5 147.5,305.5 153.5,290.5 166.5,275.5 173.5,260.5 183.5,245.5 192.5,230.5 196.5,215.5 202.5,200.5 215.5,185.5 222.5,170.5 231.5,155.5 244.5,140.5 251.5,125.5 264.5,110.5 270.5,95.5 277.5,80.5"/>
<polyline points="154.5,365.5 160.5,350.5 183.5,335.5 189.5,320.5 192.5,305.5 199.5,290.5 212.5,275.5 222.5,260.5 231.5,245.5 235.5,230.5 241.5,215.5 254.5,200.5 277.5,185.5 280.5,170.5 283.5,155.5 293.5,140.5 306.5,125.5 309.5,110.5 319.5,95.5 335.5,80.5"/>
<polyline points="139.5,365.5 144.5,350.5 170.5,335.5 189.5,320.5 196.5,305.5 209.5,290.5 215.5,275.5 225.5,260.5 231.5,245.5 238.5,230.5 251.5,215.5 270.5,200.5 277.5,185.5 280.5,170.5 286.5,155.5 296.5,140.5 309.5,125.5 312.5,110.5 322.5,95.5 335.5,80.5"/>
<polyline points="155.5,365.5 170.5,350.5 209.5,335.5 231.5,320.5 244.5,305.5 257.5,290.5 264.5,275.5 270.5,260.5 280.5,245.5 293.5,230.5 306.5,215.5 322.5,200.5 335.5,185.5 345.5,170.5 368.5,155.5 381.5,140.5 394.5,125.5 403.5,110.5 410.5,95.5 442.5,80.5"/>
<polyline points="94.5,365.5 114.5,350.5 127.5,335.5 131.5,320.5 134.5,305.5 140.5,290.5 153.5,275.5 166.5,260.5 173.5,245.5 183.5,230.5 186.5,215.5 199.5,200.5 202.5,185.5 218.5,170.5 231.5,155.5 238.5,140.5 244.5,125.5 248.5,110.5 260.5,95.5 264.5,80.5"/>
<polyline points="102.5,365.5 120.5,350.5 131.5,335.5 137.5,320.5 147.5,305.5 163.5,290.5 170.5,275.5 179.5,260.5 183.5,245.5 189.5,230.5 199.5,215.5 202.5,200.5 205.5,185.5 215.5,170.5 218.5,155.5 228.5,140.5 231.5,125.5 235.5,110.5 238.5,95.5 238.5,80.5"/>
<polyline points="120.5,365.5 143.5,350.5 153.5,335.5 166.5,320.5 183.5,305.5 189.5,290.5 205.5,275.5 222.5,260.5 235.5,245.5 238.5,230.5 251.5,215.5 257.5,200.5 280.5,185.5 296.5,170.5 309.5,155.5 319.5,140.5 322.5,125.5 325.5,110.5 332.5,95.5 335.5,80.5"/>
<polyline points="114.5,365.5 131.5,350.5 144.5,335.5 150.5,320.5 166.5,305.5 173.5,290.5 183.5,275.5 192.5,260.5 199.5,245.5 202.5,230.5 225.5,215.5 228.5,200.5 238.5,185.5 241.5,170.5 254.5,155.5 254.5,140.5 260.5,125.5 273.5,110.5 277.5,95.5 280.5,80.5"/>
<polyline points="98.5,365.5 101.5,350.5 111.5,335.5 121.5,320.5 124.5,305.5 131.5,290.5 144.5,275.5 153.5,260.5 163.5,245.5 170.5,230.5 183.5,215.5 189.5,200.5 192.5,185.5 202.5,170.5 212.5,155.5 218.5,140.5 228.5,125.5 231.5,110.5 235.5,95.5 248.5,80.5"/>
<polyline points="124.5,365.5 153.5,350.5 163.5,335.5 173.5,320.5 176.5,305.5 189.5,290.5 199.5,275.5 209.5,260.5 228.5,245.5 231.5,230.5 235.5,215.5 238.5,200.5 257.5,185.5 267.5,170.5 267.5,155.5 280.5,140.5 283.5,125.5 286.5,110.5 293.5,95.5 309.5,80.5"/>
<polyline points="113.5,365.5 120.5,350.5 134.5,335.5 144.5,320.5 153.5,305.5 170.5,290.5 183.5,275.5 196.5,260.5 202.5,245.5 209.5,230.5 218.5,215.5 228.5,200.5 235.5,185.5 244.5,170.5 244.5,155.5 257.5,140.5 264.5,125.5 267.5,110.5 280.5,95.5 283.5,80.5"/>
<polyline points="112.5,365.5 116.5,350.5 124.5,335.5 140.5,320.5 144.5,305.5 153.5,290.5 160.5,275.5 176.5,260.5 186.5,245.5 189.5,230.5 199.5,215.5 202.5,200.5 218.5,185.5 225.5,170.5 228.5,155.5 235.5,140.5 244.5,125.5 248.5,110.5 251.5,95.5 251.5,80.5"/>
<polyline points="94.5,365.5 103.5,350.5 121.5,335.5 127.5,320.5 134.5,305.5 144.5,290.5 153.5,275.5 157.5,260.5 170.5,245.5 173.5,230.5 179.5,215.5 183.5,200.5 205.5,185.5 209.5,170.5 222.5,155.5 228.5,140.5 231.5,125.5 231.5,110.5 235.5,95.5 235.5,80.5"/>
<polyline points="158.5,365.5 181.5,350.5 222.5,335.5 248.5,320.5 260.5,305.5 270.5,290.5 280.5,275.5 286.5,260.5 293.5,245.5 303.5,230.5 312.5,215.5 325.5,200.5 342.5,185.5 355.5,170.5 368.5,155.5 381.5,140.5 394.5,125.5 410.5,110.5 426.5,95.5 442.5,80.5"/>
<polyline points="100.5,365.5 103.5,350.5 118.5,335.5 127.5,320.5 140.5,305.5 147.5,290.5 150.5,275.5 160.5,260.5 163.5,245.5 173.5,230.5 176.5,215.5 183.5,200.5 192.5,185.5 196.5,170.5 209.5,155.5 218.5,140.5 228.5,125.5 231.5,110.5 238.5,95.5 238.5,80.5"/>
<polyline points="139.5,365.5 144.5,350.5 160.5,335.5 173.5,320.5 176.5,305.5 196.5,290.5 215.5,275.5 241.5,260.5 254.5,245.5 270.5,230.5 280.5,215.5 293.5,200.5 306.5,185.5 309.5,170.5 322.5,155.5 332.5,140.5 335.5,125.5 345.5,110.5 355.5,95.5 381.5,80.5"/>
<polyline points="101.5,365.5 106.5,350.5 121.5,335.5 137.5,320.5 140.5,305.5 150.5,290.5 160.5,275.5 170.5,260.5 173.5,245.5 183.5,230.5 189.5,215.5 196.5,200.5 209.5,185.5 212.5,170.5 215.5,155.5 218.5,140.5 225.5,125.5 235.5,110.5 235.5,95.5 238.5,80.5"/>
<polyline points="92.5,365.5 99.5,350.5 105.5,335.5 114.5,320.5 127.5,305.5 131.5,290.5 137.5,275.5 153.5,260.5 157.5,245.5 160.5,230.5 166.5,215.5 176.5,200.5 179.5,185.5 186.5,170.5 205.5,155.5 209.5,140.5 212.5,125.5 215.5,110.5 215.5,95.5 218.5,80.5"/>
<polyline points="100.5,365.5 104.5,350.5 121.5,335.5 131.5,320.5 147.5,305.5 150.5,290.5 163.5,275.5 166.5,260.5 173.5,245.5 176.5,230.5 186.5,215.5 196.5,200.5 199.5,185.5 202.5,170.5 205.5,155.5 222.5,140.5 225.5,125.5 228.5,110.5 235.5,95.5 241.5,80.5"/>
<polyline points="100.5,365.5 109.5,350.5 114.5,335.5 124.5,320.5 134.5,305.5 140.5,290.5 150.5,275.5 157.5,260.5 163.5,245.5 173.5,230.5 183.5,215.5 186.5,200.5 192.5,185.5 196.5,170.5 202.5,155.5 212.5,140.5 225.5,125.5 225.5,110.5 228.5,95.5 228.5,80.5"/>
<polyline points="118.5,365.5 129.5,350.5 163.5,335.5 166.5,320.5 176.5,305.5 183.5,290.5 199.5,275.5 205.5,260.5 212.5,245.5 222.5,230.5 235.5,215.5 251.5,200.5 254.5,185.5 260.5,170.5 267.5,155.5 270.5,140.5 296.5,125.5 306.5,110.5 322.5,95.5 335.5,80.5"/>
<polyline points="104.5,365.5 107.5,350.5 121.5,335.5 127.5,320.5 144.5,305.5 147.5,290.5 160.5,275.5 166.5,260.5 173.5,245.5 179.5,230.5 183.5,215.5 192.5,200.5 199.5,185.5 202.5,170.5 209.5,155.5 218.5,140.5 228.5,125.5 231.5,110.5 241.5,95.5 244.5,80.5"/>
<polyline points="120.5,365.5 127.5,350.5 147.5,335.5 157.5,320.5 166.5,305.5 179.5,290.5 192.5,275.5 199.5,260.5 212.5,245.5 222.5,230.5 228.5,215.5 241.5,200.5 244.5,185.5 257.5,170.5 260.5,155.5 264.5,140.5 277.5,125.5 283.5,110.5 293.5,95.5 296.5,80.5"/>
<polyline points="117.5,365.5 126.5,350.5 134.5,335.5 147.5,320.5 150.5,305.5 170.5,290.5 179.5,275.5 192.5,260.5 202.5,245.5 209.5,230.5 218.5,215.5 235.5,200.5 244.5,185.5 251.5,170.5 254.5,155.5 257.5,140.5 270.5,125.5 277.5,110.5 283.5,95.5 290.5,80.5"/>
<polyline points="146.5,365.5 159.5,350.5 189.5,335.5 199.5,320.5 209.5,305.5 218.5,290.5 238.5,275.5 251.5,260.5 264.5,245.5 277.5,230.5 283.5,215.5 299.5,200.5 316.5,185.5 325.5,170.5 329.5,155.5 332.5,140.5 335.5,125.5 345.5,110.5 358.5,95.5 374.5,80.5"/>
<polyline points="120.5,365.5 146.5,350.5 157.5,335.5 173.5,320.5 176.5,305.5 192.5,290.5 225.5,275.5 231.5,260.5 235.5,245.5 241.5,230.5 244.5,215.5 248.5,200.5 273.5,185.5 280.5,170.5 280.5,155.5 299.5,140.5 316.5,125.5 319.5,110.5 325.5,95.5 335.5,80.5"/>
<polyline points="150.5,365.5 170.5,350.5 192.5,335.5 196.5,320.5 202.5,305.5 212.5,290.5 248.5,275.5 260.5,260.5 264.5,245.5 286.5,230.5 293.5,215.5 303.5,200.5 325.5,185.5 332.5,170.5 335.5,155.5 338.5,140.5 342.5,125.5 351.5,110.5 358.5,95.5 371.5,80.5"/>
<polyline points="130.5,365.5 135.5,350.5 160.5,335.5 170.5,320.5 176.5,305.5 179.5,290.5 192.5,275.5 202.5,260.5 209.5,245.5 212.5,230.5 231.5,215.5 248.5,200.5 251.5,185.5 254.5,170.5 264.5,155.5 267.5,140.5 280.5,125.5 283.5,110.5 286.5,95.5 290.5,80.5"/>
<polyline points="104.5,365.5 118.5,350.5 124.5,335.5 137.5,320.5 140.5,305.5 147.5,290.5 160.5,275.5 163.5,260.5 176.5,245.5 186.5,230.5 192.5,215.5 196.5,200.5 199.5,185.5 202.5,170.5 212.5,155.5 218.5,140.5 225.5,125.5 228.5,110.5 238.5,95.5 238.5,80.5"/>
<polyline points="115.5,365.5 122.5,350.5 137.5,335.5 147.5,320.5 160.5,305.5 173.5,290.5 183.5,275.5 196.5,260.5 209.5,245.5 218.5,230.5 228.5,215.5 238.5,200.5 251.5,185.5 254.5,170.5 264.5,155.5 270.5,140.5 273.5,125.5 277.5,110.5 280.5,95.5 290.5,80.5"/>
<polyline points="122.5,365.5 129.5,350.5 134.5,335.5 153.5,320.5 160.5,305.5 176.5,290.5 189.5,275.5 205.5,260.5 209.5,245.5 222.5,230.5 228.5,215.5 238.5,200.5 241.5,185.5 254.5,170.5 257.5,155.5 260.5,140.5 267.5,125.5 277.5,110.5 290.5,95.5 293.5,80.5"/>
<polyline points="158.5,365.5 181.5,350.5 222.5,335.5 248.5,320.5 260.5,305.5 270.5,290.5 280.5,275.5 286.5,260.5 293.5,245.5 303.5,230.5 312.5,215.5 325.5,200.5 338.5,185.5 355.5,170.5 368.5,155.5 377.5,140.5 381.5,125.5 403.5,110.5 426.5,95.5 442.5,80.5"/>
<polyline points="96.5,365.5 101.5,350.5 105.5,335.5 127.5,320.5 140.5,305.5 147.5,290.5 150.5,275.5 157.5,260.5 170.5,245.5 183.5,230.5 186.5,215.5 189.5,200.5 205.5,185.5 209.5,170.5 212.5,155.5 218.5,140.5 225.5,125.5 231.5,110.5 231.5,95.5 235.5,80.5"/>
<polyline points="119.5,365.5 127.5,350.5 134.5,335.5 140.5,320.5 150.5,305.5 163.5,290.5 170.5,275.5 183.5,260.5 186.5,245.5 196.5,230.5 205.5,215.5 218.5,200.5 225.5,185.5 231.5,170.5 241.5,155.5 244.5,140.5 254.5,125.5 257.5,110.5 260.5,95.5 270.5,80.5"/>
<polyline points="138.5,365.5 160.5,350.5 173.5,335.5 192.5,320.5 212.5,305.5 218.5,290.5 241.5,275.5 254.5,260.5 264.5,245.5 280.5,230.5 296.5,215.5 309.5,200.5 322.5,185.5 338.5,170.5 338.5,155.5 345.5,140.5 358.5,125.5 377.5,110.5 384.5,95.5 390.5,80.5"/>
<polyline points="154.5,365.5 168.5,350.5 199.5,335.5 209.5,320.5 225.5,305.5 241.5,290.5 257.5,275.5 267.5,260.5 280.5,245.5 290.5,230.5 306.5,215.5 319.5,200.5 335.5,185.5 342.5,170.5 351.5,155.5 371.5,140.5 377.5,125.5 390.5,110.5 416.5,95.5 426.5,80.5"/>
<polyline points="98.5,365.5 102.5,350.5 105.5,335.5 121.5,320.5 124.5,305.5 140.5,290.5 150.5,275.5 157.5,260.5 166.5,245.5 170.5,230.5 173.5,215.5 176.5,200.5 186.5,185.5 192.5,170.5 199.5,155.5 212.5,140.5 215.5,125.5 218.5,110.5 222.5,95.5 228.5,80.5"/>
<polyline points="93.5,365.5 110.5,350.5 118.5,335.5 124.5,320.5 140.5,305.5 144.5,290.5 153.5,275.5 163.5,260.5 170.5,245.5 176.5,230.5 189.5,215.5 196.5,200.5 209.5,185.5 215.5,170.5 218.5,155.5 228.5,140.5 241.5,125.5 244.5,110.5 248.5,95.5 254.5,80.5"/>
<polyline points="100.5,365.5 115.5,350.5 124.5,335.5 134.5,320.5 144.5,305.5 150.5,290.5 163.5,275.5 179.5,260.5 186.5,245.5 189.5,230.5 202.5,215.5 205.5,200.5 215.5,185.5 225.5,170.5 225.5,155.5 235.5,140.5 244.5,125.5 257.5,110.5 260.5,95.5 267.5,80.5"/>
<polyline points="146.5,365.5 151.5,350.5 179.5,335.5 199.5,320.5 205.5,305.5 212.5,290.5 225.5,275.5 244.5,260.5 254.5,245.5 260.5,230.5 267.5,215.5 280.5,200.5 303.5,185.5 306.5,170.5 312.5,155.5 322.5,140.5 329.5,125.5 351.5,110.5 355.5,95.5 358.5,80.5"/>
<polyline points="125.5,365.5 135.5,350.5 144.5,335.5 153.5,320.5 183.5,305.5 192.5,290.5 218.5,275.5 228.5,260.5 231.5,245.5 235.5,230.5 251.5,215.5 277.5,200.5 283.5,185.5 286.5,170.5 290.5,155.5 296.5,140.5 316.5,125.5 322.5,110.5 329.5,95.5 338.5,80.5"/>
<polyline points="113.5,365.5 124.5,350.5 137.5,335.5 157.5,320.5 163.5,305.5 170.5,290.5 186.5,275.5 196.5,260.5 199.5,245.5 202.5,230.5 218.5,215.5 225.5,200.5 235.5,185.5 241.5,170.5 244.5,155.5 264.5,140.5 267.5,125.5 270.5,110.5 277.5,95.5 280.5,80.5"/>
<polyline points="132.5,365.5 143.5,350.5 153.5,335.5 192.5,320.5 202.5,305.5 209.5,290.5 238.5,275.5 244.5,260.5 254.5,245.5 260.5,230.5 277.5,215.5 283.5,200.5 290.5,185.5 293.5,170.5 296.5,155.5 299.5,140.5 312.5,125.5 316.5,110.5 319.5,95.5 325.5,80.5"/>
<polyline points="103.5,365.5 117.5,350.5 121.5,335.5 131.5,320.5 140.5,305.5 150.5,290.5 160.5,275.5 166.5,260.5 173.5,245.5 186.5,230.5 192.5,215.5 196.5,200.5 202.5,185.5 212.5,170.5 215.5,155.5 222.5,140.5 238.5,125.5 241.5,110.5 241.5,95.5 257.5,80.5"/>
<polyline points="106.5,365.5 112.5,350.5 127.5,335.5 137.5,320.5 153.5,305.5 160.5,290.5 170.5,275.5 176.5,260.5 183.5,245.5 189.5,230.5 196.5,215.5 202.5,200.5 215.5,185.5 218.5,170.5 228.5,155.5 238.5,140.5 248.5,125.5 251.5,110.5 254.5,95.5 257.5,80.5"/>
<polyline points="101.5,365.5 108.5,350.5 121.5,335.5 127.5,320.5 137.5,305.5 144.5,290.5 150.5,275.5 166.5,260.5 173.5,245.5 179.5,230.5 189.5,215.5 192.5,200.5 202.5,185.5 205.5,170.5 209.5,155.5 218.5,140.5 235.5,125.5 235.5,110.5 244.5,95.5 254.5,80.5"/>
<polyline points="158.5,365.5 168.5,350.5 199.5,335.5 205.5,320.5 222.5,305.5 238.5,290.5 254.5,275.5 267.5,260.5 270.5,245.5 273.5,230.5 299.5,215.5 309.5,200.5 319.5,185.5 335.5,170.5 338.5,155.5 342.5,140.5 351.5,125.5 358.5,110.5 374.5,95.5 381.5,80.5"/>
<polyline points="150.5,365.5 164.5,350.5 183.5,335.5 196.5,320.5 212.5,305.5 218.5,290.5 248.5,275.5 260.5,260.5 267.5,245.5 283.5,230.5 299.5,215.5 306.5,200.5 309.5,185.5 329.5,170.5 332.5,155.5 335.5,140.5 345.5,125.5 368.5,110.5 390.5,95.5 397.5,80.5"/>
<polyline points="158.5,365.5 171.5,350.5 199.5,335.5 215.5,320.5 222.5,305.5 228.5,290.5 244.5,275.5 257.5,260.5 264.5,245.5 267.5,230.5 293.5,215.5 299.5,200.5 312.5,185.5 325.5,170.5 329.5,155.5 332.5,140.5 351.5,125.5 371.5,110.5 374.5,95.5 381.5,80.5"/>
<polyline points="131.5,365.5 136.5,350.5 166.5,335.5 170.5,320.5 176.5,305.5 183.5,290.5 196.5,275.5 212.5,260.5 215.5,245.5 228.5,230.5 235.5,215.5 238.5,200.5 244.5,185.5 248.5,170.5 254.5,155.5 264.5,140.5 270.5,125.5 277.5,110.5 286.5,95.5 296.5,80.5"/>
<polyline points="101.5,365.5 108.5,350.5 121.5,335.5 124.5,320.5 137.5,305.5 147.5,290.5 153.5,275.5 160.5,260.5 166.5,245.5 173.5,230.5 183.5,215.5 189.5,200.5 196.5,185.5 202.5,170.5 209.5,155.5 222.5,140.5 225.5,125.5 235.5,110.5 238.5,95.5 241.5,80.5"/>
<polyline points="151.5,365.5 161.5,350.5 186.5,335.5 196.5,320.5 205.5,305.5 222.5,290.5 241.5,275.5 257.5,260.5 267.5,245.5 277.5,230.5 290.5,215.5 303.5,200.5 316.5,185.5 329.5,170.5 332.5,155.5 338.5,140.5 342.5,125.5 351.5,110.5 361.5,95.5 377.5,80.5"/>
<polyline points="143.5,365.5 148.5,350.5 183.5,335.5 189.5,320.5 192.5,305.5 199.5,290.5 218.5,275.5 235.5,260.5 241.5,245.5 244.5,230.5 251.5,215.5 254.5,200.5 260.5,185.5 264.5,170.5 267.5,155.5 283.5,140.5 306.5,125.5 312.5,110.5 325.5,95.5 355.5,80.5"/>
<polyline points="120.5,365.5 142.5,350.5 150.5,335.5 157.5,320.5 176.5,305.5 179.5,290.5 192.5,275.5 199.5,260.5 212.5,245.5 215.5,230.5 225.5,215.5 238.5,200.5 257.5,185.5 260.5,170.5 270.5,155.5 299.5,140.5 303.5,125.5 332.5,110.5 335.5,95.5 358.5,80.5"/>
<polyline points="93.5,365.5 95.5,350.5 98.5,335.5 101.5,320.5 114.5,305.5 118.5,290.5 124.5,275.5 127.5,260.5 131.5,245.5 140.5,230.5 147.5,215.5 166.5,200.5 186.5,185.5 192.5,170.5 199.5,155.5 205.5,140.5 209.5,125.5 218.5,110.5 218.5,95.5 222.5,80.5"/>
<polyline points="110.5,365.5 114.5,350.5 131.5,335.5 134.5,320.5 140.5,305.5 147.5,290.5 166.5,275.5 176.5,260.5 179.5,245.5 186.5,230.5 192.5,215.5 205.5,200.5 209.5,185.5 215.5,170.5 225.5,155.5 228.5,140.5 238.5,125.5 241.5,110.5 244.5,95.5 251.5,80.5"/>
<polyline points="107.5,365.5 121.5,350.5 134.5,335.5 140.5,320.5 147.5,305.5 166.5,290.5 176.5,275.5 179.5,260.5 189.5,245.5 196.5,230.5 205.5,215.5 209.5,200.5 212.5,185.5 215.5,170.5 225.5,155.5 231.5,140.5 235.5,125.5 238.5,110.5 244.5,95.5 257.5,80.5"/>
<polyline points="122.5,365.5 133.5,350.5 140.5,335.5 157.5,320.5 166.5,305.5 179.5,290.5 186.5,275.5 196.5,260.5 199.5,245.5 209.5,230.5 228.5,215.5 235.5,200.5 248.5,185.5 257.5,170.5 264.5,155.5 273.5,140.5 290.5,125.5 293.5,110.5 296.5,95.5 316.5,80.5"/>
<polyline points="111.5,365.5 125.5,350.5 134.5,335.5 144.5,320.5 157.5,305.5 170.5,290.5 186.5,275.5 192.5,260.5 202.5,245.5 205.5,230.5 225.5,215.5 228.5,200.5 235.5,185.5 244.5,170.5 254.5,155.5 257.5,140.5 260.5,125.5 264.5,110.5 264.5,95.5 267.5,80.5"/>
<polyline points="114.5,365.5 126.5,350.5 137.5,335.5 153.5,320.5 166.5,305.5 173.5,290.5 186.5,275.5 196.5,260.5 209.5,245.5 215.5,230.5 225.5,215.5 241.5,200.5 248.5,185.5 254.5,170.5 260.5,155.5 270.5,140.5 273.5,125.5 280.5,110.5 283.5,95.5 286.5,80.5"/>
<polyline points="121.5,365.5 141.5,350.5 150.5,335.5 153.5,320.5 170.5,305.5 186.5,290.5 192.5,275.5 205.5,260.5 215.5,245.5 225.5,230.5 244.5,215.5 267.5,200.5 277.5,185.5 280.5,170.5 290.5,155.5 293.5,140.5 296.5,125.5 299.5,110.5 303.5,95.5 306.5,80.5"/>
<polyline points="104.5,365.5 109.5,350.5 131.5,335.5 140.5,320.5 144.5,305.5 153.5,290.5 163.5,275.5 176.5,260.5 179.5,245.5 183.5,230.5 189.5,215.5 199.5,200.5 212.5,185.5 215.5,170.5 222.5,155.5 231.5,140.5 235.5,125.5 241.5,110.5 244.5,95.5 251.5,80.5"/>
<polyline points="124.5,365.5 130.5,350.5 157.5,335.5 170.5,320.5 173.5,305.5 186.5,290.5 196.5,275.5 199.5,260.5 212.5,245.5 228.5,230.5 231.5,215.5 238.5,200.5 248.5,185.5 251.5,170.5 257.5,155.5 267.5,140.5 277.5,125.5 293.5,110.5 299.5,95.5 303.5,80.5"/>
<polyline points="113.5,365.5 126.5,350.5 134.5,335.5 137.5,320.5 150.5,305.5 160.5,290.5 173.5,275.5 183.5,260.5 196.5,245.5 205.5,230.5 212.5,215.5 215.5,200.5 235.5,185.5 238.5,170.5 244.5,155.5 254.5,140.5 264.5,125.5 270.5,110.5 280.5,95.5 283.5,80.5"/>
<polyline points="102.5,365.5 111.5,350.5 118.5,335.5 121.5,320.5 137.5,305.5 150.5,290.5 157.5,275.5 160.5,260.5 166.5,245.5 179.5,230.5 189.5,215.5 196.5,200.5 199.5,185.5 202.5,170.5 209.5,155.5 215.5,140.5 218.5,125.5 228.5,110.5 238.5,95.5 244.5,80.5"/>
<polyline points="155.5,365.5 170.5,350.5 222.5,335.5 238.5,320.5 257.5,305.5 270.5,290.5 280.5,275.5 286.5,260.5 293.5,245.5 303.5,230.5 312.5,215.5 325.5,200.5 342.5,185.5 355.5,170.5 368.5,155.5 381.5,140.5 394.5,125.5 410.5,110.5 420.5,95.5 426.5,80.5"/>
<polyline points="98.5,365.5 103.5,350.5 118.5,335.5 127.5,320.5 134.5,305.5 140.5,290.5 150.5,275.5 157.5,260.5 166.5,245.5 173.5,230.5 176.5,215.5 186.5,200.5 192.5,185.5 199.5,170.5 209.5,155.5 212.5,140.5 218.5,125.5 222.5,110.5 225.5,95.5 235.5,80.5"/>
<polyline points="108.5,365.5 111.5,350.5 131.5,335.5 140.5,320.5 147.5,305.5 150.5,290.5 157.5,275.5 170.5,260.5 176.5,245.5 183.5,230.5 196.5,215.5 205.5,200.5 215.5,185.5 222.5,170.5 228.5,155.5 235.5,140.5 241.5,125.5 248.5,110.5 248.5,95.5 251.5,80.5"/>
<polyline points="104.5,365.5 129.5,350.5 140.5,335.5 147.5,320.5 163.5,305.5 170.5,290.5 183.5,275.5 192.5,260.5 202.5,245.5 209.5,230.5 218.5,215.5 228.5,200.5 238.5,185.5 244.5,170.5 254.5,155.5 254.5,140.5 270.5,125.5 273.5,110.5 277.5,95.5 283.5,80.5"/>
<polyline points="113.5,365.5 127.5,350.5 150.5,335.5 166.5,320.5 170.5,305.5 176.5,290.5 189.5,275.5 196.5,260.5 205.5,245.5 212.5,230.5 222.5,215.5 228.5,200.5 241.5,185.5 251.5,170.5 264.5,155.5 267.5,140.5 270.5,125.5 277.5,110.5 286.5,95.5 290.5,80.5"/>
<polyline points="92.5,365.5 99.5,350.5 114.5,335.5 124.5,320.5 134.5,305.5 144.5,290.5 153.5,275.5 160.5,260.5 170.5,245.5 173.5,230.5 183.5,215.5 189.5,200.5 196.5,185.5 199.5,170.5 212.5,155.5 218.5,140.5 225.5,125.5 231.5,110.5 231.5,95.5 238.5,80.5"/>
<polyline points="117.5,365.5 121.5,350.5 144.5,335.5 150.5,320.5 166.5,305.5 176.5,290.5 196.5,275.5 202.5,260.5 205.5,245.5 218.5,230.5 228.5,215.5 231.5,200.5 244.5,185.5 254.5,170.5 254.5,155.5 257.5,140.5 273.5,125.5 277.5,110.5 286.5,95.5 290.5,80.5"/>
<polyline points="127.5,365.5 131.5,350.5 153.5,335.5 160.5,320.5 166.5,305.5 179.5,290.5 186.5,275.5 196.5,260.5 209.5,245.5 215.5,230.5 222.5,215.5 241.5,200.5 273.5,185.5 277.5,170.5 286.5,155.5 290.5,140.5 293.5,125.5 296.5,110.5 312.5,95.5 329.5,80.5"/>
<polyline points="130.5,365.5 135.5,350.5 147.5,335.5 163.5,320.5 170.5,305.5 173.5,290.5 189.5,275.5 199.5,260.5 212.5,245.5 218.5,230.5 225.5,215.5 241.5,200.5 251.5,185.5 257.5,170.5 270.5,155.5 273.5,140.5 280.5,125.5 283.5,110.5 290.5,95.5 293.5,80.5"/>
<polyline points="114.5,365.5 134.5,350.5 144.5,335.5 150.5,320.5 170.5,305.5 179.5,290.5 189.5,275.5 202.5,260.5 205.5,245.5 218.5,230.5 225.5,215.5 228.5,200.5 244.5,185.5 251.5,170.5 260.5,155.5 264.5,140.5 270.5,125.5 286.5,110.5 290.5,95.5 293.5,80.5"/>
<polyline points="117.5,365.5 121.5,350.5 134.5,335.5 147.5,320.5 157.5,305.5 166.5,290.5 176.5,275.5 189.5,260.5 202.5,245.5 205.5,230.5 218.5,215.5 225.5,200.5 235.5,185.5 238.5,170.5 241.5,155.5 257.5,140.5 260.5,125.5 273.5,110.5 277.5,95.5 286.5,80.5"/>
<polyline points="121.5,365.5 132.5,350.5 150.5,335.5 157.5,320.5 173.5,305.5 186.5,290.5 192.5,275.5 205.5,260.5 215.5,245.5 241.5,230.5 251.5,215.5 264.5,200.5 267.5,185.5 270.5,170.5 280.5,155.5 299.5,140.5 309.5,125.5 316.5,110.5 322.5,95.5 325.5,80.5"/>
<polyline points="98.5,365.5 102.5,350.5 111.5,335.5 127.5,320.5 134.5,305.5 144.5,290.5 150.5,275.5 160.5,260.5 170.5,245.5 176.5,230.5 189.5,215.5 196.5,200.5 199.5,185.5 209.5,170.5 212.5,155.5 218.5,140.5 222.5,125.5 222.5,110.5 225.5,95.5 225.5,80.5"/>
<polyline points="121.5,365.5 128.5,350.5 137.5,335.5 163.5,320.5 173.5,305.5 189.5,290.5 199.5,275.5 212.5,260.5 225.5,245.5 231.5,230.5 244.5,215.5 264.5,200.5 273.5,185.5 277.5,170.5 280.5,155.5 283.5,140.5 296.5,125.5 299.5,110.5 303.5,95.5 306.5,80.5"/>
<polyline points="111.5,365.5 116.5,350.5 127.5,335.5 137.5,320.5 153.5,305.5 160.5,290.5 176.5,275.5 183.5,260.5 186.5,245.5 199.5,230.5 205.5,215.5 209.5,200.5 218.5,185.5 228.5,170.5 231.5,155.5 235.5,140.5 244.5,125.5 254.5,110.5 260.5,95.5 260.5,80.5"/>
<polyline points="146.5,365.5 154.5,350.5 163.5,335.5 173.5,320.5 189.5,305.5 196.5,290.5 215.5,275.5 222.5,260.5 228.5,245.5 231.5,230.5 244.5,215.5 251.5,200.5 283.5,185.5 286.5,170.5 312.5,155.5 316.5,140.5 319.5,125.5 348.5,110.5 364.5,95.5 371.5,80.5"/>
<polyline points="139.5,365.5 150.5,350.5 163.5,335.5 170.5,320.5 183.5,305.5 192.5,290.5 209.5,275.5 238.5,260.5 251.5,245.5 260.5,230.5 264.5,215.5 283.5,200.5 293.5,185.5 306.5,170.5 309.5,155.5 309.5,140.5 316.5,125.5 319.5,110.5 332.5,95.5 361.5,80.5"/>
<polyline points="102.5,365.5 110.5,350.5 124.5,335.5 131.5,320.5 137.5,305.5 150.5,290.5 157.5,275.5 173.5,260.5 183.5,245.5 186.5,230.5 189.5,215.5 202.5,200.5 205.5,185.5 209.5,170.5 218.5,155.5 228.5,140.5 231.5,125.5 235.5,110.5 244.5,95.5 248.5,80.5"/>
<polyline points="102.5,365.5 108.5,350.5 114.5,335.5 124.5,320.5 131.5,305.5 150.5,290.5 153.5,275.5 163.5,260.5 176.5,245.5 179.5,230.5 186.5,215.5 199.5,200.5 202.5,185.5 212.5,170.5 218.5,155.5 222.5,140.5 231.5,125.5 241.5,110.5 244.5,95.5 244.5,80.5"/>
<polyline points="91.5,365.5 94.5,350.5 98.5,335.5 101.5,320.5 111.5,305.5 121.5,290.5 127.5,275.5 131.5,260.5 140.5,245.5 150.5,230.5 170.5,215.5 173.5,200.5 176.5,185.5 183.5,170.5 196.5,155.5 202.5,140.5 212.5,125.5 215.5,110.5 215.5,95.5 215.5,80.5"/>
<polyline points="118.5,365.5 133.5,350.5 140.5,335.5 144.5,320.5 166.5,305.5 170.5,290.5 186.5,275.5 189.5,260.5 202.5,245.5 212.5,230.5 228.5,215.5 238.5,200.5 244.5,185.5 260.5,170.5 264.5,155.5 273.5,140.5 277.5,125.5 286.5,110.5 293.5,95.5 296.5,80.5"/>
<polyline points="125.5,365.5 137.5,350.5 144.5,335.5 157.5,320.5 170.5,305.5 179.5,290.5 196.5,275.5 202.5,260.5 212.5,245.5 218.5,230.5 228.5,215.5 244.5,200.5 251.5,185.5 260.5,170.5 264.5,155.5 267.5,140.5 270.5,125.5 277.5,110.5 286.5,95.5 290.5,80.5"/>
<polyline points="111.5,365.5 122.5,350.5 140.5,335.5 150.5,320.5 160.5,305.5 170.5,290.5 183.5,275.5 189.5,260.5 192.5,245.5 205.5,230.5 212.5,215.5 218.5,200.5 235.5,185.5 241.5,170.5 248.5,155.5 254.5,140.5 260.5,125.5 267.5,110.5 270.5,95.5 273.5,80.5"/>
<polyline points="139.5,365.5 144.5,350.5 176.5,335.5 179.5,320.5 186.5,305.5 189.5,290.5 196.5,275.5 205.5,260.5 209.5,245.5 215.5,230.5 231.5,215.5 254.5,200.5 257.5,185.5 267.5,170.5 283.5,155.5 283.5,140.5 290.5,125.5 293.5,110.5 296.5,95.5 299.5,80.5"/>
<polyline points="109.5,365.5 113.5,350.5 118.5,335.5 137.5,320.5 144.5,305.5 157.5,290.5 160.5,275.5 176.5,260.5 179.5,245.5 186.5,230.5 192.5,215.5 199.5,200.5 209.5,185.5 215.5,170.5 222.5,155.5 228.5,140.5 238.5,125.5 248.5,110.5 251.5,95.5 251.5,80.5"/>
<polyline points="135.5,365.5 176.5,350.5 189.5,335.5 218.5,320.5 225.5,305.5 231.5,290.5 244.5,275.5 251.5,260.5 264.5,245.5 273.5,230.5 280.5,215.5 290.5,200.5 296.5,185.5 303.5,170.5 306.5,155.5 309.5,140.5 312.5,125.5 329.5,110.5 358.5,95.5 368.5,80.5"/>
<polyline points="139.5,365.5 145.5,350.5 153.5,335.5 163.5,320.5 183.5,305.5 186.5,290.5 209.5,275.5 235.5,260.5 248.5,245.5 251.5,230.5 257.5,215.5 264.5,200.5 270.5,185.5 296.5,170.5 299.5,155.5 303.5,140.5 322.5,125.5 332.5,110.5 348.5,95.5 355.5,80.5"/>
<polyline points="153.5,365.5 167.5,350.5 199.5,335.5 222.5,320.5 241.5,305.5 257.5,290.5 264.5,275.5 273.5,260.5 283.5,245.5 293.5,230.5 303.5,215.5 319.5,200.5 332.5,185.5 342.5,170.5 351.5,155.5 355.5,140.5 368.5,125.5 377.5,110.5 390.5,95.5 397.5,80.5"/>
<polyline points="92.5,365.5 104.5,350.5 108.5,335.5 114.5,320.5 124.5,305.5 131.5,290.5 137.5,275.5 153.5,260.5 160.5,245.5 163.5,230.5 173.5,215.5 186.5,200.5 189.5,185.5 196.5,170.5 205.5,155.5 212.5,140.5 218.5,125.5 222.5,110.5 231.5,95.5 231.5,80.5"/>
<polyline points="156.5,365.5 182.5,350.5 222.5,335.5 251.5,320.5 273.5,305.5 286.5,290.5 303.5,275.5 319.5,260.5 342.5,245.5 361.5,230.5 374.5,215.5 394.5,200.5 416.5,185.5 436.5,170.5 452.5,155.5 465.5,140.5 471.5,125.5 478.5,110.5 481.5,95.5 484.5,80.5"/>
<polyline points="96.5,365.5 99.5,350.5 108.5,335.5 124.5,320.5 134.5,305.5 144.5,290.5 150.5,275.5 163.5,260.5 170.5,245.5 186.5,230.5 192.5,215.5 196.5,200.5 202.5,185.5 205.5,170.5 212.5,155.5 218.5,140.5 225.5,125.5 238.5,110.5 244.5,95.5 254.5,80.5"/>
<polyline points="121.5,365.5 125.5,350.5 147.5,335.5 157.5,320.5 170.5,305.5 176.5,290.5 189.5,275.5 202.5,260.5 215.5,245.5 218.5,230.5 228.5,215.5 241.5,200.5 254.5,185.5 264.5,170.5 267.5,155.5 277.5,140.5 280.5,125.5 283.5,110.5 286.5,95.5 299.5,80.5"/>
<polyline points="151.5,365.5 156.5,350.5 205.5,335.5 212.5,320.5 228.5,305.5 238.5,290.5 244.5,275.5 264.5,260.5 277.5,245.5 283.5,230.5 299.5,215.5 309.5,200.5 322.5,185.5 332.5,170.5 338.5,155.5 342.5,140.5 351.5,125.5 374.5,110.5 381.5,95.5 400.5,80.5"/>
<polyline points="119.5,365.5 132.5,350.5 144.5,335.5 157.5,320.5 163.5,305.5 173.5,290.5 186.5,275.5 192.5,260.5 196.5,245.5 209.5,230.5 215.5,215.5 225.5,200.5 235.5,185.5 238.5,170.5 244.5,155.5 251.5,140.5 264.5,125.5 270.5,110.5 273.5,95.5 273.5,80.5"/>
<polyline points="108.5,365.5 122.5,350.5 137.5,335.5 140.5,320.5 147.5,305.5 160.5,290.5 166.5,275.5 173.5,260.5 186.5,245.5 196.5,230.5 209.5,215.5 215.5,200.5 218.5,185.5 222.5,170.5 225.5,155.5 228.5,140.5 238.5,125.5 244.5,110.5 254.5,95.5 257.5,80.5"/>
<polyline points="116.5,365.5 125.5,350.5 144.5,335.5 150.5,320.5 160.5,305.5 170.5,290.5 179.5,275.5 189.5,260.5 199.5,245.5 209.5,230.5 222.5,215.5 228.5,200.5 238.5,185.5 248.5,170.5 251.5,155.5 254.5,140.5 264.5,125.5 270.5,110.5 280.5,95.5 283.5,80.5"/>
<polyline points="114.5,365.5 121.5,350.5 140.5,335.5 147.5,320.5 150.5,305.5 160.5,290.5 166.5,275.5 176.5,260.5 192.5,245.5 196.5,230.5 205.5,215.5 215.5,200.5 225.5,185.5 228.5,170.5 238.5,155.5 244.5,140.5 248.5,125.5 257.5,110.5 267.5,95.5 273.5,80.5"/>
<polyline points="153.5,365.5 165.5,350.5 192.5,335.5 215.5,320.5 228.5,305.5 238.5,290.5 260.5,275.5 267.5,260.5 280.5,245.5 290.5,230.5 306.5,215.5 319.5,200.5 335.5,185.5 345.5,170.5 351.5,155.5 361.5,140.5 368.5,125.5 387.5,110.5 400.5,95.5 410.5,80.5"/>
<polyline points="103.5,365.5 119.5,350.5 127.5,335.5 137.5,320.5 144.5,305.5 150.5,290.5 163.5,275.5 173.5,260.5 179.5,245.5 183.5,230.5 189.5,215.5 202.5,200.5 212.5,185.5 215.5,170.5 222.5,155.5 225.5,140.5 238.5,125.5 241.5,110.5 248.5,95.5 260.5,80.5"/>
<polyline points="145.5,365.5 150.5,350.5 160.5,335.5 176.5,320.5 183.5,305.5 196.5,290.5 212.5,275.5 218.5,260.5 225.5,245.5 231.5,230.5 235.5,215.5 254.5,200.5 267.5,185.5 286.5,170.5 290.5,155.5 293.5,140.5 296.5,125.5 299.5,110.5 306.5,95.5 309.5,80.5"/>
<polyline points="92.5,365.5 99.5,350.5 108.5,335.5 127.5,320.5 137.5,305.5 150.5,290.5 157.5,275.5 166.5,260.5 170.5,245.5 176.5,230.5 179.5,215.5 189.5,200.5 192.5,185.5 202.5,170.5 205.5,155.5 215.5,140.5 225.5,125.5 231.5,110.5 231.5,95.5 235.5,80.5"/>
<polyline points="120.5,365.5 129.5,350.5 144.5,335.5 147.5,320.5 150.5,305.5 170.5,290.5 183.5,275.5 189.5,260.5 202.5,245.5 205.5,230.5 218.5,215.5 231.5,200.5 238.5,185.5 244.5,170.5 248.5,155.5 251.5,140.5 260.5,125.5 277.5,110.5 280.5,95.5 283.5,80.5"/>
<polyline points="98.5,365.5 101.5,350.5 105.5,335.5 114.5,320.5 134.5,305.5 144.5,290.5 150.5,275.5 160.5,260.5 166.5,245.5 173.5,230.5 179.5,215.5 189.5,200.5 199.5,185.5 205.5,170.5 209.5,155.5 218.5,140.5 222.5,125.5 225.5,110.5 231.5,95.5 235.5,80.5"/>
<polyline points="118.5,365.5 132.5,350.5 153.5,335.5 157.5,320.5 166.5,305.5 183.5,290.5 189.5,275.5 199.5,260.5 205.5,245.5 215.5,230.5 218.5,215.5 228.5,200.5 238.5,185.5 241.5,170.5 254.5,155.5 257.5,140.5 264.5,125.5 273.5,110.5 280.5,95.5 286.5,80.5"/>
<polyline points="128.5,365.5 132.5,350.5 140.5,335.5 147.5,320.5 157.5,305.5 170.5,290.5 179.5,275.5 196.5,260.5 205.5,245.5 215.5,230.5 222.5,215.5 231.5,200.5 244.5,185.5 248.5,170.5 251.5,155.5 254.5,140.5 260.5,125.5 270.5,110.5 277.5,95.5 280.5,80.5"/>
<polyline points="92.5,365.5 100.5,350.5 114.5,335.5 121.5,320.5 134.5,305.5 137.5,290.5 147.5,275.5 153.5,260.5 166.5,245.5 173.5,230.5 183.5,215.5 186.5,200.5 192.5,185.5 196.5,170.5 199.5,155.5 202.5,140.5 212.5,125.5 215.5,110.5 225.5,95.5 231.5,80.5"/>
<polyline points="125.5,365.5 140.5,350.5 150.5,335.5 170.5,320.5 176.5,305.5 179.5,290.5 192.5,275.5 209.5,260.5 238.5,245.5 241.5,230.5 248.5,215.5 251.5,200.5 257.5,185.5 270.5,170.5 280.5,155.5 283.5,140.5 286.5,125.5 309.5,110.5 312.5,95.5 335.5,80.5"/>
<polyline points="116.5,365.5 121.5,350.5 144.5,335.5 166.5,320.5 176.5,305.5 183.5,290.5 189.5,275.5 199.5,260.5 212.5,245.5 218.5,230.5 228.5,215.5 251.5,200.5 264.5,185.5 267.5,170.5 270.5,155.5 273.5,140.5 277.5,125.5 283.5,110.5 286.5,95.5 290.5,80.5"/>
<polyline points="92.5,365.5 103.5,350.5 114.5,335.5 131.5,320.5 147.5,305.5 150.5,290.5 160.5,275.5 166.5,260.5 176.5,245.5 183.5,230.5 192.5,215.5 199.5,200.5 205.5,185.5 212.5,170.5 218.5,155.5 222.5,140.5 225.5,125.5 235.5,110.5 251.5,95.5 251.5,80.5"/>
<polyline points="149.5,365.5 154.5,350.5 166.5,335.5 183.5,320.5 209.5,305.5 215.5,290.5 228.5,275.5 248.5,260.5 273.5,245.5 277.5,230.5 290.5,215.5 303.5,200.5 309.5,185.5 322.5,170.5 329.5,155.5 332.5,140.5 335.5,125.5 345.5,110.5 348.5,95.5 371.5,80.5"/>
<polyline points="148.5,365.5 166.5,350.5 196.5,335.5 199.5,320.5 209.5,305.5 222.5,290.5 235.5,275.5 251.5,260.5 260.5,245.5 273.5,230.5 283.5,215.5 296.5,200.5 306.5,185.5 316.5,170.5 325.5,155.5 332.5,140.5 338.5,125.5 348.5,110.5 358.5,95.5 377.5,80.5"/>
<polyline points="99.5,365.5 104.5,350.5 108.5,335.5 124.5,320.5 131.5,305.5 144.5,290.5 153.5,275.5 163.5,260.5 173.5,245.5 183.5,230.5 186.5,215.5 192.5,200.5 199.5,185.5 202.5,170.5 222.5,155.5 228.5,140.5 231.5,125.5 235.5,110.5 238.5,95.5 241.5,80.5"/>
<polyline points="154.5,365.5 166.5,350.5 196.5,335.5 202.5,320.5 212.5,305.5 231.5,290.5 251.5,275.5 264.5,260.5 273.5,245.5 283.5,230.5 293.5,215.5 306.5,200.5 322.5,185.5 335.5,170.5 345.5,155.5 355.5,140.5 361.5,125.5 371.5,110.5 377.5,95.5 387.5,80.5"/>
<polyline points="128.5,365.5 133.5,350.5 147.5,335.5 157.5,320.5 166.5,305.5 192.5,290.5 199.5,275.5 212.5,260.5 228.5,245.5 248.5,230.5 254.5,215.5 260.5,200.5 273.5,185.5 277.5,170.5 280.5,155.5 293.5,140.5 303.5,125.5 306.5,110.5 309.5,95.5 316.5,80.5"/>
<polyline points="157.5,365.5 186.5,350.5 225.5,335.5 257.5,320.5 277.5,305.5 293.5,290.5 309.5,275.5 329.5,260.5 355.5,245.5 374.5,230.5 394.5,215.5 403.5,200.5 423.5,185.5 445.5,170.5 458.5,155.5 468.5,140.5 471.5,125.5 478.5,110.5 481.5,95.5 484.5,80.5"/>
<polyline points="141.5,365.5 153.5,350.5 160.5,335.5 192.5,320.5 196.5,305.5 202.5,290.5 215.5,275.5 235.5,260.5 241.5,245.5 251.5,230.5 260.5,215.5 273.5,200.5 283.5,185.5 299.5,170.5 299.5,155.5 303.5,140.5 309.5,125.5 312.5,110.5 332.5,95.5 361.5,80.5"/>
<polyline points="129.5,365.5 134.5,350.5 160.5,335.5 166.5,320.5 183.5,305.5 205.5,290.5 222.5,275.5 231.5,260.5 235.5,245.5 251.5,230.5 257.5,215.5 277.5,200.5 283.5,185.5 293.5,170.5 296.5,155.5 306.5,140.5 309.5,125.5 329.5,110.5 332.5,95.5 335.5,80.5"/>
<polyline points="144.5,365.5 150.5,350.5 189.5,335.5 199.5,320.5 202.5,305.5 209.5,290.5 225.5,275.5 231.5,260.5 241.5,245.5 260.5,230.5 264.5,215.5 270.5,200.5 277.5,185.5 306.5,170.5 309.5,155.5 325.5,140.5 355.5,125.5 381.5,110.5 390.5,95.5 423.5,80.5"/>
<polyline points="92.5,365.5 99.5,350.5 118.5,335.5 124.5,320.5 131.5,305.5 140.5,290.5 147.5,275.5 157.5,260.5 160.5,245.5 166.5,230.5 170.5,215.5 176.5,200.5 186.5,185.5 192.5,170.5 196.5,155.5 202.5,140.5 209.5,125.5 218.5,110.5 225.5,95.5 228.5,80.5"/>
<polyline points="113.5,365.5 116.5,350.5 124.5,335.5 127.5,320.5 140.5,305.5 157.5,290.5 166.5,275.5 173.5,260.5 183.5,245.5 186.5,230.5 196.5,215.5 202.5,200.5 209.5,185.5 212.5,170.5 215.5,155.5 222.5,140.5 228.5,125.5 235.5,110.5 238.5,95.5 238.5,80.5"/>
<polyline points="106.5,365.5 110.5,350.5 114.5,335.5 124.5,320.5 134.5,305.5 137.5,290.5 153.5,275.5 160.5,260.5 170.5,245.5 176.5,230.5 179.5,215.5 192.5,200.5 196.5,185.5 205.5,170.5 212.5,155.5 222.5,140.5 235.5,125.5 244.5,110.5 248.5,95.5 248.5,80.5"/>
<polyline points="157.5,365.5 170.5,350.5 218.5,335.5 228.5,320.5 257.5,305.5 264.5,290.5 273.5,275.5 280.5,260.5 286.5,245.5 296.5,230.5 306.5,215.5 319.5,200.5 332.5,185.5 338.5,170.5 345.5,155.5 355.5,140.5 361.5,125.5 374.5,110.5 384.5,95.5 394.5,80.5"/>
<polyline points="114.5,365.5 118.5,350.5 134.5,335.5 144.5,320.5 153.5,305.5 163.5,290.5 173.5,275.5 179.5,260.5 192.5,245.5 202.5,230.5 205.5,215.5 212.5,200.5 222.5,185.5 231.5,170.5 241.5,155.5 248.5,140.5 251.5,125.5 257.5,110.5 264.5,95.5 270.5,80.5"/>
<polyline points="131.5,365.5 135.5,350.5 153.5,335.5 157.5,320.5 163.5,305.5 176.5,290.5 186.5,275.5 199.5,260.5 209.5,245.5 215.5,230.5 222.5,215.5 231.5,200.5 241.5,185.5 244.5,170.5 251.5,155.5 260.5,140.5 267.5,125.5 273.5,110.5 277.5,95.5 290.5,80.5"/>
<polyline points="92.5,365.5 105.5,350.5 108.5,335.5 114.5,320.5 131.5,305.5 137.5,290.5 140.5,275.5 153.5,260.5 170.5,245.5 170.5,230.5 176.5,215.5 179.5,200.5 183.5,185.5 196.5,170.5 202.5,155.5 205.5,140.5 212.5,125.5 215.5,110.5 218.5,95.5 218.5,80.5"/>
<polyline points="114.5,365.5 118.5,350.5 144.5,335.5 153.5,320.5 163.5,305.5 173.5,290.5 176.5,275.5 183.5,260.5 192.5,245.5 199.5,230.5 205.5,215.5 215.5,200.5 225.5,185.5 228.5,170.5 231.5,155.5 244.5,140.5 254.5,125.5 257.5,110.5 260.5,95.5 264.5,80.5"/>
<polyline points="145.5,365.5 150.5,350.5 163.5,335.5 192.5,320.5 199.5,305.5 209.5,290.5 241.5,275.5 251.5,260.5 257.5,245.5 270.5,230.5 280.5,215.5 286.5,200.5 293.5,185.5 296.5,170.5 306.5,155.5 325.5,140.5 329.5,125.5 381.5,110.5 390.5,95.5 407.5,80.5"/>
<polyline points="118.5,365.5 148.5,350.5 166.5,335.5 179.5,320.5 183.5,305.5 222.5,290.5 231.5,275.5 241.5,260.5 248.5,245.5 257.5,230.5 260.5,215.5 277.5,200.5 299.5,185.5 303.5,170.5 309.5,155.5 312.5,140.5 316.5,125.5 322.5,110.5 325.5,95.5 335.5,80.5"/>
<polyline points="102.5,365.5 113.5,350.5 118.5,335.5 134.5,320.5 147.5,305.5 157.5,290.5 166.5,275.5 173.5,260.5 179.5,245.5 189.5,230.5 192.5,215.5 202.5,200.5 209.5,185.5 215.5,170.5 225.5,155.5 231.5,140.5 248.5,125.5 260.5,110.5 260.5,95.5 264.5,80.5"/>
<polyline points="125.5,365.5 135.5,350.5 144.5,335.5 153.5,320.5 166.5,305.5 189.5,290.5 209.5,275.5 212.5,260.5 235.5,245.5 238.5,230.5 244.5,215.5 254.5,200.5 260.5,185.5 264.5,170.5 280.5,155.5 296.5,140.5 306.5,125.5 319.5,110.5 329.5,95.5 338.5,80.5"/>
<polyline points="123.5,365.5 127.5,350.5 144.5,335.5 153.5,320.5 170.5,305.5 176.5,290.5 189.5,275.5 209.5,260.5 212.5,245.5 222.5,230.5 231.5,215.5 235.5,200.5 244.5,185.5 248.5,170.5 251.5,155.5 267.5,140.5 270.5,125.5 283.5,110.5 286.5,95.5 290.5,80.5"/>
<polyline points="92.5,365.5 95.5,350.5 98.5,335.5 111.5,320.5 127.5,305.5 131.5,290.5 134.5,275.5 137.5,260.5 140.5,245.5 157.5,230.5 166.5,215.5 170.5,200.5 173.5,185.5 176.5,170.5 189.5,155.5 192.5,140.5 196.5,125.5 199.5,110.5 202.5,95.5 202.5,80.5"/>
<polyline points="92.5,365.5 106.5,350.5 111.5,335.5 131.5,320.5 134.5,305.5 144.5,290.5 153.5,275.5 160.5,260.5 166.5,245.5 173.5,230.5 179.5,215.5 183.5,200.5 186.5,185.5 189.5,170.5 192.5,155.5 202.5,140.5 209.5,125.5 215.5,110.5 218.5,95.5 218.5,80.5"/>
<polyline points="146.5,365.5 154.5,350.5 202.5,335.5 209.5,320.5 212.5,305.5 218.5,290.5 228.5,275.5 238.5,260.5 251.5,245.5 254.5,230.5 270.5,215.5 277.5,200.5 283.5,185.5 306.5,170.5 309.5,155.5 319.5,140.5 325.5,125.5 329.5,110.5 332.5,95.5 338.5,80.5"/>
<polyline points="143.5,365.5 181.5,350.5 205.5,335.5 231.5,320.5 238.5,305.5 244.5,290.5 254.5,275.5 260.5,260.5 264.5,245.5 277.5,230.5 296.5,215.5 299.5,200.5 322.5,185.5 329.5,170.5 335.5,155.5 345.5,140.5 358.5,125.5 361.5,110.5 368.5,95.5 371.5,80.5"/>
<polyline points="105.5,365.5 120.5,350.5 134.5,335.5 144.5,320.5 147.5,305.5 153.5,290.5 163.5,275.5 176.5,260.5 183.5,245.5 186.5,230.5 189.5,215.5 209.5,200.5 212.5,185.5 215.5,170.5 225.5,155.5 235.5,140.5 244.5,125.5 248.5,110.5 251.5,95.5 257.5,80.5"/>
<polyline points="154.5,365.5 168.5,350.5 196.5,335.5 209.5,320.5 222.5,305.5 235.5,290.5 251.5,275.5 264.5,260.5 280.5,245.5 290.5,230.5 299.5,215.5 312.5,200.5 329.5,185.5 338.5,170.5 345.5,155.5 351.5,140.5 364.5,125.5 390.5,110.5 413.5,95.5 423.5,80.5"/>
<polyline points="92.5,365.5 113.5,350.5 118.5,335.5 121.5,320.5 131.5,305.5 140.5,290.5 150.5,275.5 160.5,260.5 173.5,245.5 179.5,230.5 189.5,215.5 199.5,200.5 202.5,185.5 218.5,170.5 222.5,155.5 231.5,140.5 238.5,125.5 248.5,110.5 251.5,95.5 254.5,80.5"/>
<polyline points="134.5,365.5 141.5,350.5 150.5,335.5 160.5,320.5 166.5,305.5 192.5,290.5 205.5,275.5 218.5,260.5 222.5,245.5 235.5,230.5 241.5,215.5 257.5,200.5 277.5,185.5 293.5,170.5 293.5,155.5 306.5,140.5 316.5,125.5 319.5,110.5 325.5,95.5 329.5,80.5"/>
<polyline points="144.5,365.5 149.5,350.5 176.5,335.5 186.5,320.5 199.5,305.5 231.5,290.5 238.5,275.5 251.5,260.5 254.5,245.5 260.5,230.5 283.5,215.5 290.5,200.5 299.5,185.5 303.5,170.5 319.5,155.5 325.5,140.5 332.5,125.5 335.5,110.5 361.5,95.5 364.5,80.5"/>
<polyline points="129.5,365.5 142.5,350.5 150.5,335.5 173.5,320.5 183.5,305.5 196.5,290.5 209.5,275.5 225.5,260.5 231.5,245.5 241.5,230.5 257.5,215.5 260.5,200.5 264.5,185.5 267.5,170.5 277.5,155.5 280.5,140.5 283.5,125.5 286.5,110.5 293.5,95.5 299.5,80.5"/>
<polyline points="110.5,365.5 115.5,350.5 121.5,335.5 137.5,320.5 140.5,305.5 150.5,290.5 157.5,275.5 166.5,260.5 176.5,245.5 183.5,230.5 189.5,215.5 199.5,200.5 202.5,185.5 205.5,170.5 212.5,155.5 215.5,140.5 218.5,125.5 231.5,110.5 235.5,95.5 254.5,80.5"/>
<polyline points="96.5,365.5 99.5,350.5 105.5,335.5 111.5,320.5 118.5,305.5 124.5,290.5 131.5,275.5 134.5,260.5 137.5,245.5 147.5,230.5 150.5,215.5 166.5,200.5 176.5,185.5 186.5,170.5 199.5,155.5 202.5,140.5 205.5,125.5 209.5,110.5 209.5,95.5 212.5,80.5"/>
<polyline points="92.5,365.5 104.5,350.5 108.5,335.5 121.5,320.5 124.5,305.5 131.5,290.5 137.5,275.5 144.5,260.5 150.5,245.5 163.5,230.5 166.5,215.5 173.5,200.5 179.5,185.5 189.5,170.5 199.5,155.5 202.5,140.5 209.5,125.5 212.5,110.5 215.5,95.5 218.5,80.5"/>
<polyline points="121.5,365.5 128.5,350.5 147.5,335.5 150.5,320.5 166.5,305.5 170.5,290.5 183.5,275.5 192.5,260.5 202.5,245.5 212.5,230.5 222.5,215.5 228.5,200.5 241.5,185.5 251.5,170.5 264.5,155.5 273.5,140.5 286.5,125.5 290.5,110.5 293.5,95.5 299.5,80.5"/>
<polyline points="88.5,365.5 93.5,350.5 105.5,335.5 105.5,320.5 111.5,305.5 114.5,290.5 124.5,275.5 131.5,260.5 140.5,245.5 150.5,230.5 163.5,215.5 166.5,200.5 179.5,185.5 186.5,170.5 186.5,155.5 202.5,140.5 209.5,125.5 209.5,110.5 218.5,95.5 218.5,80.5"/>
<polyline points="146.5,365.5 152.5,350.5 179.5,335.5 183.5,320.5 189.5,305.5 199.5,290.5 218.5,275.5 241.5,260.5 248.5,245.5 254.5,230.5 260.5,215.5 270.5,200.5 293.5,185.5 312.5,170.5 316.5,155.5 319.5,140.5 322.5,125.5 338.5,110.5 348.5,95.5 374.5,80.5"/>
<polyline points="99.5,365.5 102.5,350.5 114.5,335.5 121.5,320.5 131.5,305.5 144.5,290.5 153.5,275.5 157.5,260.5 166.5,245.5 173.5,230.5 176.5,215.5 179.5,200.5 192.5,185.5 196.5,170.5 199.5,155.5 209.5,140.5 215.5,125.5 218.5,110.5 225.5,95.5 225.5,80.5"/>
<polyline points="106.5,365.5 113.5,350.5 134.5,335.5 144.5,320.5 153.5,305.5 163.5,290.5 179.5,275.5 189.5,260.5 202.5,245.5 209.5,230.5 212.5,215.5 225.5,200.5 231.5,185.5 238.5,170.5 248.5,155.5 251.5,140.5 257.5,125.5 264.5,110.5 270.5,95.5 277.5,80.5"/>
<polyline points="113.5,365.5 121.5,350.5 127.5,335.5 147.5,320.5 150.5,305.5 163.5,290.5 176.5,275.5 189.5,260.5 199.5,245.5 205.5,230.5 222.5,215.5 235.5,200.5 241.5,185.5 254.5,170.5 264.5,155.5 264.5,140.5 267.5,125.5 286.5,110.5 290.5,95.5 296.5,80.5"/>
<polyline points="125.5,365.5 146.5,350.5 153.5,335.5 160.5,320.5 163.5,305.5 179.5,290.5 205.5,275.5 212.5,260.5 215.5,245.5 222.5,230.5 228.5,215.5 238.5,200.5 241.5,185.5 264.5,170.5 267.5,155.5 273.5,140.5 277.5,125.5 283.5,110.5 290.5,95.5 296.5,80.5"/>
<polyline points="112.5,365.5 131.5,350.5 144.5,335.5 150.5,320.5 163.5,305.5 179.5,290.5 209.5,275.5 212.5,260.5 215.5,245.5 222.5,230.5 231.5,215.5 248.5,200.5 254.5,185.5 273.5,170.5 280.5,155.5 283.5,140.5 293.5,125.5 296.5,110.5 299.5,95.5 303.5,80.5"/>
<polyline points="113.5,365.5 122.5,350.5 131.5,335.5 147.5,320.5 157.5,305.5 163.5,290.5 183.5,275.5 192.5,260.5 199.5,245.5 215.5,230.5 225.5,215.5 231.5,200.5 244.5,185.5 254.5,170.5 257.5,155.5 267.5,140.5 270.5,125.5 273.5,110.5 286.5,95.5 290.5,80.5"/>
<polyline points="104.5,365.5 117.5,350.5 121.5,335.5 127.5,320.5 140.5,305.5 147.5,290.5 160.5,275.5 163.5,260.5 170.5,245.5 173.5,230.5 186.5,215.5 189.5,200.5 196.5,185.5 202.5,170.5 209.5,155.5 218.5,140.5 225.5,125.5 228.5,110.5 228.5,95.5 238.5,80.5"/>
<polyline points="137.5,365.5 158.5,350.5 173.5,335.5 196.5,320.5 199.5,305.5 209.5,290.5 222.5,275.5 228.5,260.5 241.5,245.5 257.5,230.5 267.5,215.5 273.5,200.5 286.5,185.5 290.5,170.5 299.5,155.5 299.5,140.5 319.5,125.5 351.5,110.5 371.5,95.5 403.5,80.5"/>
<polyline points="126.5,365.5 131.5,350.5 157.5,335.5 170.5,320.5 179.5,305.5 186.5,290.5 192.5,275.5 218.5,260.5 222.5,245.5 235.5,230.5 241.5,215.5 248.5,200.5 254.5,185.5 260.5,170.5 273.5,155.5 277.5,140.5 280.5,125.5 290.5,110.5 325.5,95.5 338.5,80.5"/>
<polyline points="143.5,365.5 148.5,350.5 160.5,335.5 173.5,320.5 199.5,305.5 205.5,290.5 212.5,275.5 225.5,260.5 235.5,245.5 238.5,230.5 257.5,215.5 267.5,200.5 283.5,185.5 290.5,170.5 296.5,155.5 306.5,140.5 312.5,125.5 322.5,110.5 348.5,95.5 351.5,80.5"/>
<polyline points="160.5,365.5 198.5,350.5 238.5,335.5 267.5,320.5 286.5,305.5 312.5,290.5 335.5,275.5 355.5,260.5 384.5,245.5 413.5,230.5 429.5,215.5 445.5,200.5 458.5,185.5 462.5,170.5 465.5,155.5 471.5,140.5 475.5,125.5 481.5,110.5 484.5,95.5 484.5,80.5"/>
<polyline points="157.5,365.5 181.5,350.5 199.5,335.5 202.5,320.5 215.5,305.5 257.5,290.5 264.5,275.5 273.5,260.5 280.5,245.5 290.5,230.5 306.5,215.5 316.5,200.5 329.5,185.5 335.5,170.5 335.5,155.5 345.5,140.5 351.5,125.5 374.5,110.5 381.5,95.5 387.5,80.5"/>
<polyline points="96.5,365.5 104.5,350.5 114.5,335.5 118.5,320.5 127.5,305.5 137.5,290.5 144.5,275.5 153.5,260.5 160.5,245.5 166.5,230.5 173.5,215.5 179.5,200.5 186.5,185.5 192.5,170.5 199.5,155.5 202.5,140.5 205.5,125.5 209.5,110.5 218.5,95.5 218.5,80.5"/>
<polyline points="155.5,365.5 171.5,350.5 212.5,335.5 238.5,320.5 251.5,305.5 260.5,290.5 270.5,275.5 277.5,260.5 286.5,245.5 296.5,230.5 312.5,215.5 325.5,200.5 338.5,185.5 355.5,170.5 371.5,155.5 387.5,140.5 403.5,125.5 416.5,110.5 432.5,95.5 449.5,80.5"/>
<polyline points="101.5,365.5 108.5,350.5 114.5,335.5 121.5,320.5 137.5,305.5 144.5,290.5 153.5,275.5 163.5,260.5 170.5,245.5 173.5,230.5 176.5,215.5 183.5,200.5 189.5,185.5 199.5,170.5 202.5,155.5 205.5,140.5 209.5,125.5 212.5,110.5 215.5,95.5 215.5,80.5"/>
<polyline points="114.5,365.5 118.5,350.5 140.5,335.5 153.5,320.5 160.5,305.5 179.5,290.5 189.5,275.5 196.5,260.5 209.5,245.5 215.5,230.5 218.5,215.5 231.5,200.5 241.5,185.5 244.5,170.5 251.5,155.5 257.5,140.5 260.5,125.5 277.5,110.5 286.5,95.5 290.5,80.5"/>
<polyline points="119.5,365.5 143.5,350.5 157.5,335.5 160.5,320.5 170.5,305.5 189.5,290.5 196.5,275.5 202.5,260.5 222.5,245.5 225.5,230.5 231.5,215.5 238.5,200.5 254.5,185.5 257.5,170.5 267.5,155.5 273.5,140.5 277.5,125.5 299.5,110.5 306.5,95.5 309.5,80.5"/>
<polyline points="113.5,365.5 116.5,350.5 124.5,335.5 137.5,320.5 140.5,305.5 157.5,290.5 163.5,275.5 176.5,260.5 183.5,245.5 186.5,230.5 205.5,215.5 215.5,200.5 218.5,185.5 228.5,170.5 235.5,155.5 238.5,140.5 254.5,125.5 257.5,110.5 270.5,95.5 273.5,80.5"/>
<polyline points="158.5,365.5 181.5,350.5 222.5,335.5 248.5,320.5 260.5,305.5 270.5,290.5 280.5,275.5 286.5,260.5 293.5,245.5 303.5,230.5 312.5,215.5 322.5,200.5 335.5,185.5 345.5,170.5 358.5,155.5 381.5,140.5 394.5,125.5 410.5,110.5 426.5,95.5 442.5,80.5"/>
<polyline points="114.5,365.5 160.5,350.5 179.5,335.5 183.5,320.5 199.5,305.5 209.5,290.5 222.5,275.5 244.5,260.5 257.5,245.5 260.5,230.5 286.5,215.5 293.5,200.5 316.5,185.5 322.5,170.5 335.5,155.5 338.5,140.5 351.5,125.5 361.5,110.5 374.5,95.5 384.5,80.5"/>
<polyline points="153.5,365.5 169.5,350.5 202.5,335.5 212.5,320.5 228.5,305.5 235.5,290.5 248.5,275.5 260.5,260.5 270.5,245.5 283.5,230.5 296.5,215.5 309.5,200.5 322.5,185.5 335.5,170.5 345.5,155.5 355.5,140.5 371.5,125.5 384.5,110.5 400.5,95.5 413.5,80.5"/>
<polyline points="122.5,365.5 126.5,350.5 144.5,335.5 150.5,320.5 153.5,305.5 166.5,290.5 183.5,275.5 189.5,260.5 199.5,245.5 202.5,230.5 209.5,215.5 215.5,200.5 222.5,185.5 231.5,170.5 238.5,155.5 244.5,140.5 254.5,125.5 257.5,110.5 267.5,95.5 270.5,80.5"/>
<polyline points="116.5,365.5 127.5,350.5 140.5,335.5 150.5,320.5 170.5,305.5 179.5,290.5 192.5,275.5 205.5,260.5 212.5,245.5 218.5,230.5 225.5,215.5 241.5,200.5 248.5,185.5 257.5,170.5 267.5,155.5 280.5,140.5 283.5,125.5 286.5,110.5 296.5,95.5 299.5,80.5"/>
<polyline points="106.5,365.5 117.5,350.5 121.5,335.5 131.5,320.5 144.5,305.5 150.5,290.5 157.5,275.5 166.5,260.5 173.5,245.5 176.5,230.5 183.5,215.5 192.5,200.5 196.5,185.5 209.5,170.5 212.5,155.5 225.5,140.5 228.5,125.5 241.5,110.5 244.5,95.5 251.5,80.5"/>
<polyline points="149.5,365.5 158.5,350.5 189.5,335.5 192.5,320.5 202.5,305.5 215.5,290.5 235.5,275.5 248.5,260.5 264.5,245.5 273.5,230.5 286.5,215.5 296.5,200.5 306.5,185.5 312.5,170.5 322.5,155.5 329.5,140.5 338.5,125.5 348.5,110.5 355.5,95.5 371.5,80.5"/>
<polyline points="154.5,365.5 166.5,350.5 192.5,335.5 196.5,320.5 238.5,305.5 244.5,290.5 260.5,275.5 267.5,260.5 273.5,245.5 293.5,230.5 296.5,215.5 316.5,200.5 329.5,185.5 332.5,170.5 345.5,155.5 348.5,140.5 355.5,125.5 368.5,110.5 377.5,95.5 384.5,80.5"/>
<polyline points="147.5,365.5 156.5,350.5 205.5,335.5 228.5,320.5 244.5,305.5 251.5,290.5 267.5,275.5 273.5,260.5 280.5,245.5 290.5,230.5 299.5,215.5 319.5,200.5 325.5,185.5 335.5,170.5 342.5,155.5 355.5,140.5 358.5,125.5 374.5,110.5 377.5,95.5 384.5,80.5"/>
<polyline points="92.5,365.5 99.5,350.5 105.5,335.5 114.5,320.5 124.5,305.5 131.5,290.5 137.5,275.5 144.5,260.5 150.5,245.5 157.5,230.5 166.5,215.5 173.5,200.5 179.5,185.5 186.5,170.5 192.5,155.5 202.5,140.5 209.5,125.5 218.5,110.5 218.5,95.5 222.5,80.5"/>
<polyline points="88.5,365.5 96.5,350.5 98.5,335.5 101.5,320.5 111.5,305.5 121.5,290.5 124.5,275.5 127.5,260.5 147.5,245.5 160.5,230.5 163.5,215.5 170.5,200.5 176.5,185.5 186.5,170.5 189.5,155.5 196.5,140.5 202.5,125.5 205.5,110.5 205.5,95.5 212.5,80.5"/>
<polyline points="103.5,365.5 108.5,350.5 124.5,335.5 140.5,320.5 144.5,305.5 153.5,290.5 170.5,275.5 176.5,260.5 186.5,245.5 189.5,230.5 202.5,215.5 212.5,200.5 215.5,185.5 222.5,170.5 225.5,155.5 231.5,140.5 238.5,125.5 248.5,110.5 254.5,95.5 267.5,80.5"/>
<polyline points="144.5,365.5 149.5,350.5 160.5,335.5 202.5,320.5 209.5,305.5 225.5,290.5 238.5,275.5 267.5,260.5 270.5,245.5 277.5,230.5 280.5,215.5 293.5,200.5 299.5,185.5 316.5,170.5 319.5,155.5 329.5,140.5 332.5,125.5 358.5,110.5 361.5,95.5 400.5,80.5"/>
<polyline points="158.5,365.5 185.5,350.5 225.5,335.5 251.5,320.5 264.5,305.5 270.5,290.5 280.5,275.5 290.5,260.5 299.5,245.5 306.5,230.5 312.5,215.5 325.5,200.5 338.5,185.5 355.5,170.5 371.5,155.5 387.5,140.5 403.5,125.5 416.5,110.5 432.5,95.5 449.5,80.5"/>
<polyline points="107.5,365.5 122.5,350.5 131.5,335.5 140.5,320.5 153.5,305.5 160.5,290.5 173.5,275.5 179.5,260.5 189.5,245.5 196.5,230.5 212.5,215.5 222.5,200.5 231.5,185.5 238.5,170.5 251.5,155.5 260.5,140.5 267.5,125.5 270.5,110.5 277.5,95.5 277.5,80.5"/>
<polyline points="134.5,365.5 155.5,350.5 183.5,335.5 186.5,320.5 202.5,305.5 205.5,290.5 225.5,275.5 231.5,260.5 267.5,245.5 270.5,230.5 277.5,215.5 290.5,200.5 309.5,185.5 316.5,170.5 316.5,155.5 319.5,140.5 338.5,125.5 348.5,110.5 351.5,95.5 355.5,80.5"/>
<polyline points="101.5,365.5 118.5,350.5 121.5,335.5 131.5,320.5 134.5,305.5 147.5,290.5 153.5,275.5 163.5,260.5 166.5,245.5 179.5,230.5 189.5,215.5 199.5,200.5 209.5,185.5 212.5,170.5 225.5,155.5 231.5,140.5 238.5,125.5 241.5,110.5 244.5,95.5 244.5,80.5"/>
<polyline points="94.5,365.5 100.5,350.5 101.5,335.5 108.5,320.5 111.5,305.5 114.5,290.5 134.5,275.5 147.5,260.5 160.5,245.5 166.5,230.5 173.5,215.5 176.5,200.5 186.5,185.5 189.5,170.5 196.5,155.5 199.5,140.5 202.5,125.5 202.5,110.5 202.5,95.5 205.5,80.5"/>
<polyline points="102.5,365.5 105.5,350.5 124.5,335.5 127.5,320.5 137.5,305.5 144.5,290.5 153.5,275.5 163.5,260.5 170.5,245.5 179.5,230.5 183.5,215.5 192.5,200.5 199.5,185.5 202.5,170.5 209.5,155.5 218.5,140.5 225.5,125.5 235.5,110.5 235.5,95.5 241.5,80.5"/>
<polyline points="98.5,365.5 113.5,350.5 118.5,335.5 131.5,320.5 140.5,305.5 144.5,290.5 150.5,275.5 157.5,260.5 166.5,245.5 170.5,230.5 173.5,215.5 176.5,200.5 189.5,185.5 196.5,170.5 209.5,155.5 218.5,140.5 225.5,125.5 228.5,110.5 231.5,95.5 231.5,80.5"/>
<polyline points="122.5,365.5 127.5,350.5 147.5,335.5 157.5,320.5 173.5,305.5 179.5,290.5 192.5,275.5 205.5,260.5 215.5,245.5 222.5,230.5 244.5,215.5 251.5,200.5 254.5,185.5 267.5,170.5 283.5,155.5 286.5,140.5 290.5,125.5 312.5,110.5 316.5,95.5 325.5,80.5"/>
<polyline points="92.5,365.5 104.5,350.5 121.5,335.5 131.5,320.5 137.5,305.5 150.5,290.5 153.5,275.5 160.5,260.5 170.5,245.5 173.5,230.5 179.5,215.5 192.5,200.5 202.5,185.5 205.5,170.5 209.5,155.5 218.5,140.5 228.5,125.5 231.5,110.5 235.5,95.5 238.5,80.5"/>
<polyline points="118.5,365.5 132.5,350.5 147.5,335.5 153.5,320.5 160.5,305.5 176.5,290.5 192.5,275.5 196.5,260.5 202.5,245.5 205.5,230.5 209.5,215.5 222.5,200.5 225.5,185.5 238.5,170.5 244.5,155.5 254.5,140.5 257.5,125.5 264.5,110.5 270.5,95.5 277.5,80.5"/>
<polyline points="154.5,365.5 168.5,350.5 199.5,335.5 209.5,320.5 231.5,305.5 241.5,290.5 257.5,275.5 264.5,260.5 273.5,245.5 290.5,230.5 303.5,215.5 316.5,200.5 329.5,185.5 342.5,170.5 355.5,155.5 364.5,140.5 374.5,125.5 390.5,110.5 407.5,95.5 423.5,80.5"/>
<polyline points="100.5,365.5 103.5,350.5 108.5,335.5 121.5,320.5 124.5,305.5 131.5,290.5 137.5,275.5 144.5,260.5 150.5,245.5 157.5,230.5 166.5,215.5 173.5,200.5 186.5,185.5 192.5,170.5 196.5,155.5 202.5,140.5 209.5,125.5 212.5,110.5 222.5,95.5 222.5,80.5"/>
<polyline points="118.5,365.5 153.5,350.5 160.5,335.5 166.5,320.5 170.5,305.5 179.5,290.5 192.5,275.5 199.5,260.5 209.5,245.5 235.5,230.5 244.5,215.5 254.5,200.5 257.5,185.5 270.5,170.5 277.5,155.5 277.5,140.5 283.5,125.5 286.5,110.5 290.5,95.5 309.5,80.5"/>
<polyline points="97.5,365.5 111.5,350.5 124.5,335.5 137.5,320.5 150.5,305.5 163.5,290.5 173.5,275.5 186.5,260.5 189.5,245.5 199.5,230.5 212.5,215.5 225.5,200.5 235.5,185.5 238.5,170.5 248.5,155.5 254.5,140.5 260.5,125.5 264.5,110.5 267.5,95.5 270.5,80.5"/>
<polyline points="152.5,365.5 159.5,350.5 176.5,335.5 196.5,320.5 212.5,305.5 231.5,290.5 238.5,275.5 244.5,260.5 260.5,245.5 273.5,230.5 283.5,215.5 306.5,200.5 312.5,185.5 316.5,170.5 319.5,155.5 322.5,140.5 325.5,125.5 329.5,110.5 351.5,95.5 355.5,80.5"/>
<polyline points="95.5,365.5 99.5,350.5 105.5,335.5 114.5,320.5 124.5,305.5 131.5,290.5 137.5,275.5 144.5,260.5 150.5,245.5 157.5,230.5 166.5,215.5 173.5,200.5 179.5,185.5 186.5,170.5 192.5,155.5 202.5,140.5 209.5,125.5 212.5,110.5 215.5,95.5 215.5,80.5"/>
<polyline points="115.5,365.5 120.5,350.5 131.5,335.5 147.5,320.5 150.5,305.5 166.5,290.5 176.5,275.5 189.5,260.5 196.5,245.5 205.5,230.5 209.5,215.5 218.5,200.5 231.5,185.5 235.5,170.5 244.5,155.5 248.5,140.5 251.5,125.5 254.5,110.5 254.5,95.5 267.5,80.5"/>
<polyline points="152.5,365.5 168.5,350.5 199.5,335.5 228.5,320.5 260.5,305.5 286.5,290.5 299.5,275.5 316.5,260.5 322.5,245.5 325.5,230.5 329.5,215.5 335.5,200.5 348.5,185.5 361.5,170.5 381.5,155.5 397.5,140.5 413.5,125.5 429.5,110.5 445.5,95.5 458.5,80.5"/>
<polyline points="155.5,365.5 171.5,350.5 209.5,335.5 238.5,320.5 244.5,305.5 260.5,290.5 267.5,275.5 273.5,260.5 286.5,245.5 296.5,230.5 306.5,215.5 316.5,200.5 329.5,185.5 338.5,170.5 345.5,155.5 348.5,140.5 358.5,125.5 374.5,110.5 387.5,95.5 400.5,80.5"/>
<polyline points="98.5,365.5 123.5,350.5 127.5,335.5 134.5,320.5 153.5,305.5 157.5,290.5 163.5,275.5 173.5,260.5 183.5,245.5 186.5,230.5 196.5,215.5 202.5,200.5 212.5,185.5 215.5,170.5 228.5,155.5 231.5,140.5 235.5,125.5 248.5,110.5 254.5,95.5 257.5,80.5"/>
<polyline points="136.5,365.5 141.5,350.5 153.5,335.5 183.5,320.5 199.5,305.5 209.5,290.5 218.5,275.5 257.5,260.5 264.5,245.5 270.5,230.5 273.5,215.5 293.5,200.5 319.5,185.5 325.5,170.5 345.5,155.5 348.5,140.5 358.5,125.5 371.5,110.5 381.5,95.5 394.5,80.5"/>
<polyline points="110.5,365.5 125.5,350.5 144.5,335.5 150.5,320.5 157.5,305.5 173.5,290.5 176.5,275.5 192.5,260.5 199.5,245.5 205.5,230.5 209.5,215.5 222.5,200.5 225.5,185.5 228.5,170.5 235.5,155.5 238.5,140.5 241.5,125.5 244.5,110.5 254.5,95.5 257.5,80.5"/>
<polyline points="95.5,365.5 99.5,350.5 127.5,335.5 137.5,320.5 140.5,305.5 147.5,290.5 160.5,275.5 166.5,260.5 173.5,245.5 176.5,230.5 183.5,215.5 192.5,200.5 202.5,185.5 205.5,170.5 209.5,155.5 218.5,140.5 225.5,125.5 228.5,110.5 231.5,95.5 235.5,80.5"/>
<polyline points="153.5,365.5 166.5,350.5 202.5,335.5 215.5,320.5 222.5,305.5 238.5,290.5 254.5,275.5 264.5,260.5 267.5,245.5 283.5,230.5 296.5,215.5 303.5,200.5 319.5,185.5 332.5,170.5 338.5,155.5 342.5,140.5 355.5,125.5 371.5,110.5 387.5,95.5 394.5,80.5"/>
<polyline points="155.5,365.5 178.5,350.5 215.5,335.5 244.5,320.5 270.5,305.5 280.5,290.5 296.5,275.5 312.5,260.5 332.5,245.5 348.5,230.5 355.5,215.5 368.5,200.5 384.5,185.5 400.5,170.5 413.5,155.5 429.5,140.5 442.5,125.5 452.5,110.5 462.5,95.5 478.5,80.5"/>
<polyline points="114.5,365.5 125.5,350.5 140.5,335.5 147.5,320.5 163.5,305.5 176.5,290.5 186.5,275.5 192.5,260.5 202.5,245.5 209.5,230.5 218.5,215.5 222.5,200.5 228.5,185.5 238.5,170.5 244.5,155.5 260.5,140.5 267.5,125.5 273.5,110.5 283.5,95.5 293.5,80.5"/>
<polyline points="125.5,365.5 129.5,350.5 137.5,335.5 147.5,320.5 160.5,305.5 176.5,290.5 189.5,275.5 199.5,260.5 212.5,245.5 222.5,230.5 228.5,215.5 238.5,200.5 251.5,185.5 257.5,170.5 264.5,155.5 270.5,140.5 273.5,125.5 283.5,110.5 286.5,95.5 296.5,80.5"/>
<polyline points="116.5,365.5 126.5,350.5 150.5,335.5 157.5,320.5 163.5,305.5 173.5,290.5 186.5,275.5 196.5,260.5 199.5,245.5 212.5,230.5 218.5,215.5 225.5,200.5 231.5,185.5 241.5,170.5 251.5,155.5 267.5,140.5 273.5,125.5 277.5,110.5 280.5,95.5 293.5,80.5"/>
<polyline points="88.5,365.5 93.5,350.5 98.5,335.5 101.5,320.5 111.5,305.5 114.5,290.5 124.5,275.5 127.5,260.5 134.5,245.5 140.5,230.5 147.5,215.5 160.5,200.5 166.5,185.5 176.5,170.5 183.5,155.5 189.5,140.5 196.5,125.5 199.5,110.5 202.5,95.5 202.5,80.5"/>
<polyline points="115.5,365.5 127.5,350.5 134.5,335.5 147.5,320.5 157.5,305.5 163.5,290.5 179.5,275.5 189.5,260.5 202.5,245.5 209.5,230.5 225.5,215.5 228.5,200.5 231.5,185.5 241.5,170.5 248.5,155.5 251.5,140.5 267.5,125.5 270.5,110.5 277.5,95.5 283.5,80.5"/>
<polyline points="92.5,365.5 99.5,350.5 108.5,335.5 121.5,320.5 124.5,305.5 131.5,290.5 137.5,275.5 150.5,260.5 153.5,245.5 157.5,230.5 166.5,215.5 173.5,200.5 179.5,185.5 192.5,170.5 196.5,155.5 202.5,140.5 212.5,125.5 215.5,110.5 215.5,95.5 215.5,80.5"/>
<polyline points="152.5,365.5 169.5,350.5 199.5,335.5 212.5,320.5 218.5,305.5 228.5,290.5 244.5,275.5 260.5,260.5 270.5,245.5 280.5,230.5 296.5,215.5 309.5,200.5 325.5,185.5 332.5,170.5 335.5,155.5 342.5,140.5 348.5,125.5 361.5,110.5 371.5,95.5 400.5,80.5"/>
<polyline points="102.5,365.5 108.5,350.5 118.5,335.5 121.5,320.5 131.5,305.5 140.5,290.5 150.5,275.5 157.5,260.5 166.5,245.5 173.5,230.5 183.5,215.5 189.5,200.5 199.5,185.5 209.5,170.5 212.5,155.5 228.5,140.5 231.5,125.5 235.5,110.5 248.5,95.5 248.5,80.5"/>
<polyline points="158.5,365.5 185.5,350.5 218.5,335.5 238.5,320.5 251.5,305.5 260.5,290.5 273.5,275.5 277.5,260.5 290.5,245.5 299.5,230.5 312.5,215.5 325.5,200.5 338.5,185.5 351.5,170.5 358.5,155.5 371.5,140.5 397.5,125.5 416.5,110.5 429.5,95.5 449.5,80.5"/>
<polyline points="119.5,365.5 142.5,350.5 157.5,335.5 170.5,320.5 186.5,305.5 202.5,290.5 209.5,275.5 218.5,260.5 225.5,245.5 231.5,230.5 235.5,215.5 248.5,200.5 251.5,185.5 254.5,170.5 264.5,155.5 273.5,140.5 280.5,125.5 286.5,110.5 309.5,95.5 316.5,80.5"/>
<polyline points="102.5,365.5 116.5,350.5 131.5,335.5 144.5,320.5 147.5,305.5 160.5,290.5 166.5,275.5 179.5,260.5 186.5,245.5 189.5,230.5 196.5,215.5 202.5,200.5 212.5,185.5 222.5,170.5 228.5,155.5 238.5,140.5 241.5,125.5 254.5,110.5 257.5,95.5 264.5,80.5"/>
<polyline points="108.5,365.5 118.5,350.5 124.5,335.5 127.5,320.5 144.5,305.5 150.5,290.5 157.5,275.5 163.5,260.5 166.5,245.5 173.5,230.5 179.5,215.5 192.5,200.5 196.5,185.5 202.5,170.5 205.5,155.5 218.5,140.5 222.5,125.5 225.5,110.5 228.5,95.5 251.5,80.5"/>
<polyline points="104.5,365.5 108.5,350.5 127.5,335.5 137.5,320.5 147.5,305.5 153.5,290.5 160.5,275.5 173.5,260.5 183.5,245.5 192.5,230.5 202.5,215.5 205.5,200.5 225.5,185.5 228.5,170.5 238.5,155.5 248.5,140.5 257.5,125.5 267.5,110.5 273.5,95.5 277.5,80.5"/>
<polyline points="116.5,365.5 120.5,350.5 131.5,335.5 137.5,320.5 157.5,305.5 173.5,290.5 183.5,275.5 199.5,260.5 205.5,245.5 209.5,230.5 215.5,215.5 225.5,200.5 231.5,185.5 241.5,170.5 248.5,155.5 254.5,140.5 264.5,125.5 267.5,110.5 280.5,95.5 286.5,80.5"/>
<polyline points="107.5,365.5 111.5,350.5 124.5,335.5 131.5,320.5 140.5,305.5 150.5,290.5 157.5,275.5 160.5,260.5 176.5,245.5 183.5,230.5 189.5,215.5 192.5,200.5 202.5,185.5 209.5,170.5 215.5,155.5 215.5,140.5 225.5,125.5 231.5,110.5 231.5,95.5 235.5,80.5"/>
<polyline points="155.5,365.5 170.5,350.5 209.5,335.5 228.5,320.5 238.5,305.5 260.5,290.5 267.5,275.5 273.5,260.5 283.5,245.5 296.5,230.5 312.5,215.5 325.5,200.5 338.5,185.5 355.5,170.5 368.5,155.5 381.5,140.5 394.5,125.5 410.5,110.5 426.5,95.5 442.5,80.5"/>
<polyline points="154.5,365.5 170.5,350.5 205.5,335.5 238.5,320.5 260.5,305.5 270.5,290.5 277.5,275.5 280.5,260.5 293.5,245.5 299.5,230.5 309.5,215.5 325.5,200.5 342.5,185.5 345.5,170.5 351.5,155.5 361.5,140.5 371.5,125.5 390.5,110.5 403.5,95.5 423.5,80.5"/>
<polyline points="109.5,365.5 121.5,350.5 127.5,335.5 144.5,320.5 147.5,305.5 166.5,290.5 170.5,275.5 176.5,260.5 183.5,245.5 192.5,230.5 199.5,215.5 212.5,200.5 231.5,185.5 235.5,170.5 248.5,155.5 251.5,140.5 264.5,125.5 267.5,110.5 267.5,95.5 273.5,80.5"/>
<polyline points="92.5,365.5 110.5,350.5 121.5,335.5 131.5,320.5 140.5,305.5 147.5,290.5 153.5,275.5 163.5,260.5 179.5,245.5 192.5,230.5 202.5,215.5 205.5,200.5 212.5,185.5 218.5,170.5 225.5,155.5 228.5,140.5 238.5,125.5 241.5,110.5 257.5,95.5 260.5,80.5"/>
<polyline points="128.5,365.5 133.5,350.5 144.5,335.5 153.5,320.5 173.5,305.5 176.5,290.5 192.5,275.5 202.5,260.5 212.5,245.5 222.5,230.5 235.5,215.5 248.5,200.5 260.5,185.5 270.5,170.5 283.5,155.5 286.5,140.5 296.5,125.5 303.5,110.5 312.5,95.5 319.5,80.5"/>
<polyline points="134.5,365.5 142.5,350.5 150.5,335.5 157.5,320.5 192.5,305.5 199.5,290.5 209.5,275.5 215.5,260.5 235.5,245.5 241.5,230.5 244.5,215.5 251.5,200.5 254.5,185.5 264.5,170.5 283.5,155.5 296.5,140.5 299.5,125.5 303.5,110.5 306.5,95.5 309.5,80.5"/>
<polyline points="148.5,365.5 153.5,350.5 163.5,335.5 176.5,320.5 192.5,305.5 205.5,290.5 244.5,275.5 251.5,260.5 267.5,245.5 273.5,230.5 290.5,215.5 306.5,200.5 316.5,185.5 335.5,170.5 338.5,155.5 338.5,140.5 345.5,125.5 351.5,110.5 368.5,95.5 374.5,80.5"/>
<polyline points="107.5,365.5 121.5,350.5 137.5,335.5 140.5,320.5 150.5,305.5 166.5,290.5 176.5,275.5 186.5,260.5 196.5,245.5 202.5,230.5 215.5,215.5 222.5,200.5 231.5,185.5 235.5,170.5 244.5,155.5 251.5,140.5 257.5,125.5 260.5,110.5 270.5,95.5 273.5,80.5"/>
<polyline points="128.5,365.5 162.5,350.5 173.5,335.5 176.5,320.5 183.5,305.5 189.5,290.5 222.5,275.5 235.5,260.5 248.5,245.5 264.5,230.5 270.5,215.5 277.5,200.5 280.5,185.5 286.5,170.5 286.5,155.5 290.5,140.5 293.5,125.5 299.5,110.5 303.5,95.5 309.5,80.5"/>
<polyline points="104.5,365.5 112.5,350.5 118.5,335.5 124.5,320.5 134.5,305.5 147.5,290.5 160.5,275.5 166.5,260.5 179.5,245.5 183.5,230.5 196.5,215.5 202.5,200.5 209.5,185.5 215.5,170.5 218.5,155.5 222.5,140.5 228.5,125.5 231.5,110.5 238.5,95.5 248.5,80.5"/>
<polyline points="101.5,365.5 104.5,350.5 124.5,335.5 131.5,320.5 137.5,305.5 147.5,290.5 153.5,275.5 170.5,260.5 176.5,245.5 183.5,230.5 186.5,215.5 189.5,200.5 202.5,185.5 212.5,170.5 215.5,155.5 218.5,140.5 228.5,125.5 231.5,110.5 238.5,95.5 241.5,80.5"/>
<polyline points="107.5,365.5 117.5,350.5 134.5,335.5 140.5,320.5 144.5,305.5 157.5,290.5 173.5,275.5 179.5,260.5 189.5,245.5 199.5,230.5 209.5,215.5 212.5,200.5 218.5,185.5 228.5,170.5 238.5,155.5 238.5,140.5 251.5,125.5 267.5,110.5 273.5,95.5 283.5,80.5"/>
<polyline points="116.5,365.5 124.5,350.5 131.5,335.5 140.5,320.5 147.5,305.5 163.5,290.5 179.5,275.5 189.5,260.5 196.5,245.5 199.5,230.5 212.5,215.5 218.5,200.5 228.5,185.5 235.5,170.5 241.5,155.5 248.5,140.5 257.5,125.5 264.5,110.5 267.5,95.5 273.5,80.5"/>
<polyline points="101.5,365.5 117.5,350.5 124.5,335.5 134.5,320.5 144.5,305.5 157.5,290.5 163.5,275.5 173.5,260.5 183.5,245.5 186.5,230.5 196.5,215.5 209.5,200.5 212.5,185.5 218.5,170.5 222.5,155.5 235.5,140.5 244.5,125.5 254.5,110.5 264.5,95.5 264.5,80.5"/>
<polyline points="103.5,365.5 120.5,350.5 134.5,335.5 144.5,320.5 147.5,305.5 153.5,290.5 166.5,275.5 173.5,260.5 176.5,245.5 186.5,230.5 196.5,215.5 205.5,200.5 209.5,185.5 218.5,170.5 222.5,155.5 228.5,140.5 231.5,125.5 241.5,110.5 244.5,95.5 248.5,80.5"/>
<polyline points="106.5,365.5 116.5,350.5 127.5,335.5 137.5,320.5 147.5,305.5 150.5,290.5 163.5,275.5 170.5,260.5 179.5,245.5 186.5,230.5 196.5,215.5 202.5,200.5 212.5,185.5 222.5,170.5 228.5,155.5 235.5,140.5 238.5,125.5 244.5,110.5 244.5,95.5 248.5,80.5"/>
<polyline points="154.5,365.5 170.5,350.5 222.5,335.5 238.5,320.5 244.5,305.5 264.5,290.5 270.5,275.5 286.5,260.5 293.5,245.5 303.5,230.5 312.5,215.5 325.5,200.5 342.5,185.5 355.5,170.5 368.5,155.5 381.5,140.5 394.5,125.5 410.5,110.5 426.5,95.5 442.5,80.5"/>
<polyline points="112.5,365.5 124.5,350.5 140.5,335.5 147.5,320.5 163.5,305.5 173.5,290.5 179.5,275.5 192.5,260.5 199.5,245.5 209.5,230.5 222.5,215.5 231.5,200.5 241.5,185.5 244.5,170.5 248.5,155.5 260.5,140.5 264.5,125.5 273.5,110.5 277.5,95.5 283.5,80.5"/>
<polyline points="121.5,365.5 153.5,350.5 163.5,335.5 170.5,320.5 189.5,305.5 209.5,290.5 228.5,275.5 244.5,260.5 267.5,245.5 273.5,230.5 286.5,215.5 303.5,200.5 316.5,185.5 319.5,170.5 322.5,155.5 325.5,140.5 329.5,125.5 338.5,110.5 345.5,95.5 355.5,80.5"/>
<polyline points="128.5,365.5 132.5,350.5 166.5,335.5 170.5,320.5 176.5,305.5 179.5,290.5 186.5,275.5 196.5,260.5 209.5,245.5 212.5,230.5 218.5,215.5 231.5,200.5 238.5,185.5 254.5,170.5 267.5,155.5 270.5,140.5 277.5,125.5 283.5,110.5 286.5,95.5 290.5,80.5"/>
<polyline points="128.5,365.5 135.5,350.5 147.5,335.5 179.5,320.5 186.5,305.5 192.5,290.5 199.5,275.5 212.5,260.5 222.5,245.5 238.5,230.5 260.5,215.5 264.5,200.5 270.5,185.5 273.5,170.5 277.5,155.5 280.5,140.5 283.5,125.5 286.5,110.5 309.5,95.5 312.5,80.5"/>
<polyline points="152.5,365.5 165.5,350.5 192.5,335.5 196.5,320.5 212.5,305.5 222.5,290.5 241.5,275.5 251.5,260.5 267.5,245.5 273.5,230.5 286.5,215.5 296.5,200.5 316.5,185.5 322.5,170.5 325.5,155.5 338.5,140.5 345.5,125.5 355.5,110.5 371.5,95.5 384.5,80.5"/>
<polyline points="102.5,365.5 115.5,350.5 127.5,335.5 131.5,320.5 140.5,305.5 147.5,290.5 163.5,275.5 166.5,260.5 173.5,245.5 179.5,230.5 183.5,215.5 192.5,200.5 199.5,185.5 212.5,170.5 215.5,155.5 222.5,140.5 225.5,125.5 235.5,110.5 238.5,95.5 248.5,80.5"/>
<polyline points="101.5,365.5 115.5,350.5 124.5,335.5 140.5,320.5 150.5,305.5 157.5,290.5 166.5,275.5 176.5,260.5 183.5,245.5 186.5,230.5 189.5,215.5 202.5,200.5 205.5,185.5 212.5,170.5 215.5,155.5 218.5,140.5 231.5,125.5 238.5,110.5 248.5,95.5 257.5,80.5"/>
<polyline points="96.5,365.5 103.5,350.5 111.5,335.5 121.5,320.5 131.5,305.5 137.5,290.5 147.5,275.5 153.5,260.5 160.5,245.5 166.5,230.5 170.5,215.5 173.5,200.5 186.5,185.5 192.5,170.5 196.5,155.5 199.5,140.5 202.5,125.5 205.5,110.5 205.5,95.5 209.5,80.5"/>
<polyline points="120.5,365.5 125.5,350.5 140.5,335.5 153.5,320.5 160.5,305.5 170.5,290.5 179.5,275.5 192.5,260.5 202.5,245.5 205.5,230.5 215.5,215.5 225.5,200.5 231.5,185.5 244.5,170.5 257.5,155.5 264.5,140.5 280.5,125.5 283.5,110.5 286.5,95.5 296.5,80.5"/>
<polyline points="109.5,365.5 114.5,350.5 124.5,335.5 134.5,320.5 147.5,305.5 160.5,290.5 173.5,275.5 183.5,260.5 189.5,245.5 199.5,230.5 212.5,215.5 215.5,200.5 218.5,185.5 222.5,170.5 231.5,155.5 238.5,140.5 241.5,125.5 244.5,110.5 244.5,95.5 251.5,80.5"/>
<polyline points="107.5,365.5 117.5,350.5 127.5,335.5 137.5,320.5 153.5,305.5 163.5,290.5 176.5,275.5 179.5,260.5 189.5,245.5 196.5,230.5 202.5,215.5 212.5,200.5 222.5,185.5 228.5,170.5 238.5,155.5 241.5,140.5 248.5,125.5 251.5,110.5 254.5,95.5 267.5,80.5"/>
</g>
<g class="ax">
<rect x="65.5" y="65.5" width="550" height="310"/>
<path d="M128.5 375.5v-6 M128.5 65.5v5"/>
<path d="M181.5 375.5v-11 M181.5 65.5v10"/>
<path d="M234.5 375.5v-6 M234.5 65.5v5"/>
<path d="M287.5 375.5v-11 M287.5 65.5v10"/>
<path d="M340.5 375.5v-6 M340.5 65.5v5"/>
<path d="M393.5 375.5v-11 M393.5 65.5v10"/>
<path d="M446.5 375.5v-6 M446.5 65.5v5"/>
<path d="M499.5 375.5v-11 M499.5 65.5v10"/>
<path d="M552.5 375.5v-6 M552.5 65.5v5"/>
<path d="M605.5 375.5v-11 M605.5 65.5v10"/>
<path d="M65.5 336.5h5 M615.5 336.5h-6"/>
<path d="M65.5 307.5h5 M615.5 307.5h-6"/>
<path d="M65.5 278.5h5 M615.5 278.5h-6"/>
<path d="M65.5 249.5h5 M615.5 249.5h-6"/>
<path d="M65.5 220.5h10 M615.5 220.5h-11"/>
<path d="M65.5 191.5h5 M615.5 191.5h-6"/>
<path d="M65.5 162.5h5 M615.5 162.5h-6"/>
<path d="M65.5 133.5h5 M615.5 133.5h-6"/>
<path d="M65.5 104.5h5 M615.5 104.5h-6"/>
<path d="M65.5 75.5h10 M615.5 75.5h-11"/>
</g>
<g>
<text class="z" text-anchor="middle" x="-24.7 -16.4 -8.2 0 8.2 16.4 24.7" transform="translate(343 29.7) scale(1.1679 1)">T0957s1</text>
<text text-anchor="middle" x="-94.5 -86.3 -78.1 -69.9 -61.6 -53.4 -45.2 -37 -28.8 -20.5 -12.3 -4.1 4.1 12.3 20.5 28.8 37 45.2 53.4 61.6 69.9 78.1 86.3 94.5" transform="translate(334 420.2) scale(1.1679 1)">Percent of Residues (CA)</text>
<text text-anchor="middle" x="-69.9 -61.6 -53.4 -45.2 -37 -28.8 -20.5 -12.3 -4.1 4.1 12.3 20.5 28.8 37 45.2 53.4 61.6 69.9" transform="translate(29.8 232.8) rotate(-90) scale(1.1679 1)">Distance Cutoff, A</text>
<text class="z" text-anchor="middle" x="0" transform="translate(65 394.5) scale(1.1679 1)">0</text>
<text class="z" text-anchor="middle" x="-4.1 4.1" transform="translate(180 394.5) scale(1.1679 1)">20</text>
<text class="z" text-anchor="middle" x="-4.1 4.1" transform="translate(286.3 394.5) scale(1.1679 1)">40</text>
<text class="z" text-anchor="middle" x="-4.1 4.1" transform="translate(392.5 394.5) scale(1.1679 1)">60</text>
<text class="z" text-anchor="middle" x="-4.1 4.1" transform="translate(498.5 394.5) scale(1.1679 1)">80</text>
<text class="z" text-anchor="middle" x="-8.2 0 8.2" transform="translate(609 394.5) scale(1.1679 1)">100</text>
<text class="z" text-anchor="middle" x="0" transform="translate(54 375.5) rotate(-90) scale(1.1679 1)">0</text>
<text class="z" text-anchor="middle" x="0" transform="translate(54 220.3) rotate(-90) scale(1.1679 1)">5</text>
<text class="z" text-anchor="middle" x="-4.1 4.1" transform="translate(54 65.5) rotate(-90) scale(1.1679 1)">10</text>
</g>
</svg>
</body></html>
